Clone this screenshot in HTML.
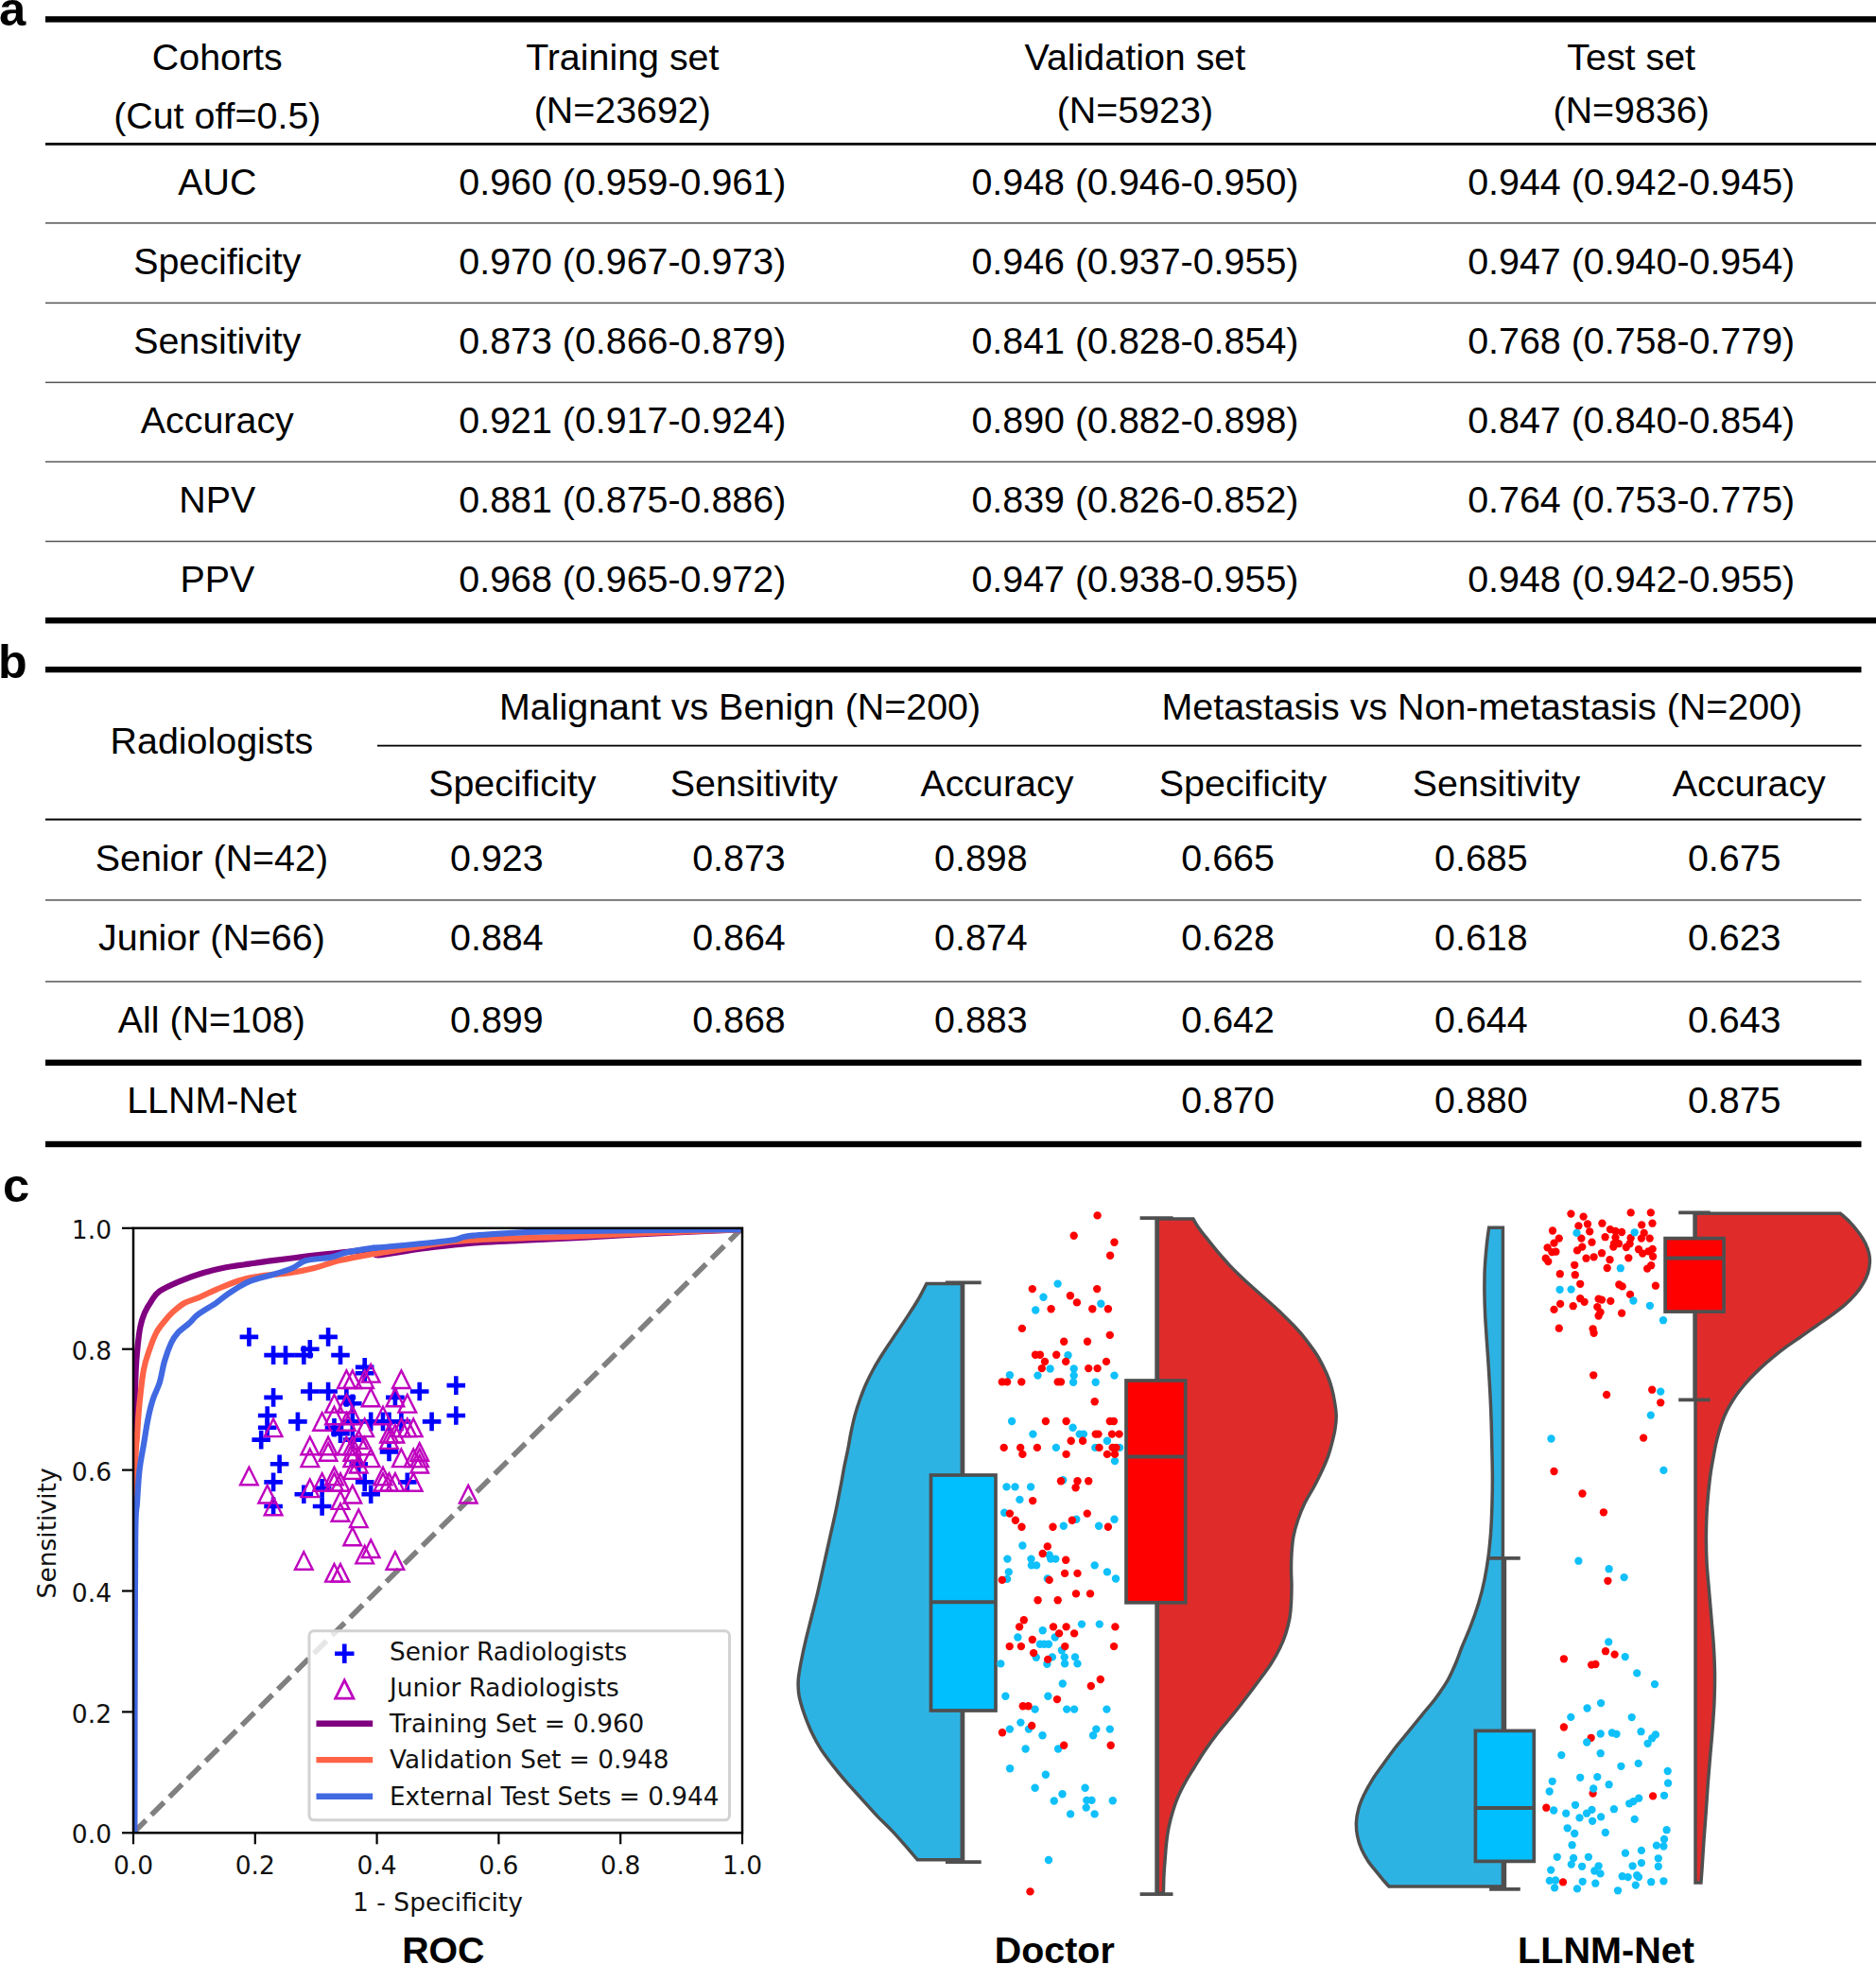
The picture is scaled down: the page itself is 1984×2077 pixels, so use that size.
<!DOCTYPE html>
<html><head><meta charset="utf-8"><title>Figure</title>
<style>html,body{margin:0;padding:0;background:#fff}svg{display:block}</style></head>
<body><svg width="1984" height="2077" viewBox="0 0 1984 2077">
<rect width="1984" height="2077" fill="#fff"/>
<text x="-0.9" y="27.1" font-size="50.8" text-anchor="start" font-family="Liberation Sans, Arial, sans-serif" font-weight="bold" fill="#000">a</text>
<rect x="48" y="17.20" width="1936" height="6.4" fill="#000"/>
<rect x="48" y="150.90" width="1936" height="2.8" fill="#000"/>
<text x="229.8" y="73.8" font-size="39.4" text-anchor="middle" font-family="Liberation Sans, Arial, sans-serif" fill="#000">Cohorts</text>
<text x="229.8" y="135.9" font-size="39.4" text-anchor="middle" font-family="Liberation Sans, Arial, sans-serif" fill="#000">(Cut off=0.5)</text>
<text x="658.3" y="73.8" font-size="39.4" text-anchor="middle" font-family="Liberation Sans, Arial, sans-serif" fill="#000">Training set</text>
<text x="658.3" y="129.8" font-size="39.4" text-anchor="middle" font-family="Liberation Sans, Arial, sans-serif" fill="#000">(N=23692)</text>
<text x="1200.4" y="73.8" font-size="39.4" text-anchor="middle" font-family="Liberation Sans, Arial, sans-serif" fill="#000">Validation set</text>
<text x="1200.4" y="129.8" font-size="39.4" text-anchor="middle" font-family="Liberation Sans, Arial, sans-serif" fill="#000">(N=5923)</text>
<text x="1725.2" y="73.8" font-size="39.4" text-anchor="middle" font-family="Liberation Sans, Arial, sans-serif" fill="#000">Test set</text>
<text x="1725.2" y="129.8" font-size="39.4" text-anchor="middle" font-family="Liberation Sans, Arial, sans-serif" fill="#000">(N=9836)</text>
<text x="229.8" y="205.9" font-size="39.4" text-anchor="middle" font-family="Liberation Sans, Arial, sans-serif" fill="#000">AUC</text>
<text x="658.3" y="205.9" font-size="39.4" text-anchor="middle" font-family="Liberation Sans, Arial, sans-serif" fill="#000">0.960 (0.959-0.961)</text>
<text x="1200.4" y="205.9" font-size="39.4" text-anchor="middle" font-family="Liberation Sans, Arial, sans-serif" fill="#000">0.948 (0.946-0.950)</text>
<text x="1725.2" y="205.9" font-size="39.4" text-anchor="middle" font-family="Liberation Sans, Arial, sans-serif" fill="#000">0.944 (0.942-0.945)</text>
<text x="229.8" y="289.8" font-size="39.4" text-anchor="middle" font-family="Liberation Sans, Arial, sans-serif" fill="#000">Specificity</text>
<text x="658.3" y="289.8" font-size="39.4" text-anchor="middle" font-family="Liberation Sans, Arial, sans-serif" fill="#000">0.970 (0.967-0.973)</text>
<text x="1200.4" y="289.8" font-size="39.4" text-anchor="middle" font-family="Liberation Sans, Arial, sans-serif" fill="#000">0.946 (0.937-0.955)</text>
<text x="1725.2" y="289.8" font-size="39.4" text-anchor="middle" font-family="Liberation Sans, Arial, sans-serif" fill="#000">0.947 (0.940-0.954)</text>
<text x="229.8" y="373.8" font-size="39.4" text-anchor="middle" font-family="Liberation Sans, Arial, sans-serif" fill="#000">Sensitivity</text>
<text x="658.3" y="373.8" font-size="39.4" text-anchor="middle" font-family="Liberation Sans, Arial, sans-serif" fill="#000">0.873 (0.866-0.879)</text>
<text x="1200.4" y="373.8" font-size="39.4" text-anchor="middle" font-family="Liberation Sans, Arial, sans-serif" fill="#000">0.841 (0.828-0.854)</text>
<text x="1725.2" y="373.8" font-size="39.4" text-anchor="middle" font-family="Liberation Sans, Arial, sans-serif" fill="#000">0.768 (0.758-0.779)</text>
<text x="229.8" y="457.9" font-size="39.4" text-anchor="middle" font-family="Liberation Sans, Arial, sans-serif" fill="#000">Accuracy</text>
<text x="658.3" y="457.9" font-size="39.4" text-anchor="middle" font-family="Liberation Sans, Arial, sans-serif" fill="#000">0.921 (0.917-0.924)</text>
<text x="1200.4" y="457.9" font-size="39.4" text-anchor="middle" font-family="Liberation Sans, Arial, sans-serif" fill="#000">0.890 (0.882-0.898)</text>
<text x="1725.2" y="457.9" font-size="39.4" text-anchor="middle" font-family="Liberation Sans, Arial, sans-serif" fill="#000">0.847 (0.840-0.854)</text>
<text x="229.8" y="541.9" font-size="39.4" text-anchor="middle" font-family="Liberation Sans, Arial, sans-serif" fill="#000">NPV</text>
<text x="658.3" y="541.9" font-size="39.4" text-anchor="middle" font-family="Liberation Sans, Arial, sans-serif" fill="#000">0.881 (0.875-0.886)</text>
<text x="1200.4" y="541.9" font-size="39.4" text-anchor="middle" font-family="Liberation Sans, Arial, sans-serif" fill="#000">0.839 (0.826-0.852)</text>
<text x="1725.2" y="541.9" font-size="39.4" text-anchor="middle" font-family="Liberation Sans, Arial, sans-serif" fill="#000">0.764 (0.753-0.775)</text>
<text x="229.8" y="625.9" font-size="39.4" text-anchor="middle" font-family="Liberation Sans, Arial, sans-serif" fill="#000">PPV</text>
<text x="658.3" y="625.9" font-size="39.4" text-anchor="middle" font-family="Liberation Sans, Arial, sans-serif" fill="#000">0.968 (0.965-0.972)</text>
<text x="1200.4" y="625.9" font-size="39.4" text-anchor="middle" font-family="Liberation Sans, Arial, sans-serif" fill="#000">0.947 (0.938-0.955)</text>
<text x="1725.2" y="625.9" font-size="39.4" text-anchor="middle" font-family="Liberation Sans, Arial, sans-serif" fill="#000">0.948 (0.942-0.955)</text>
<rect x="48" y="235.15" width="1936" height="1.5" fill="#555"/>
<rect x="48" y="319.65" width="1936" height="1.5" fill="#555"/>
<rect x="48" y="403.65" width="1936" height="1.5" fill="#555"/>
<rect x="48" y="487.65" width="1936" height="1.5" fill="#555"/>
<rect x="48" y="571.75" width="1936" height="1.5" fill="#555"/>
<rect x="48" y="653.00" width="1936" height="6.4" fill="#000"/>
<text x="-2.1" y="716.7" font-size="50.2" text-anchor="start" font-family="Liberation Sans, Arial, sans-serif" font-weight="bold" fill="#000">b</text>
<rect x="48" y="704.95" width="1920.5" height="6.3" fill="#000"/>
<text x="223.9" y="796.8" font-size="39.4" text-anchor="middle" font-family="Liberation Sans, Arial, sans-serif" fill="#000">Radiologists</text>
<text x="782.6" y="761" font-size="39.4" text-anchor="middle" font-family="Liberation Sans, Arial, sans-serif" fill="#000">Malignant vs Benign (N=200)</text>
<text x="1567.3" y="761" font-size="39.4" text-anchor="middle" font-family="Liberation Sans, Arial, sans-serif" fill="#000">Metastasis vs Non-metastasis (N=200)</text>
<rect x="399" y="787.70" width="1569.5" height="1.8" fill="#000"/>
<text x="541.8" y="842.3" font-size="39.4" text-anchor="middle" font-family="Liberation Sans, Arial, sans-serif" fill="#000">Specificity</text>
<text x="797.4" y="842.3" font-size="39.4" text-anchor="middle" font-family="Liberation Sans, Arial, sans-serif" fill="#000">Sensitivity</text>
<text x="1054.4" y="842.3" font-size="39.4" text-anchor="middle" font-family="Liberation Sans, Arial, sans-serif" fill="#000">Accuracy</text>
<text x="1314.5" y="842.3" font-size="39.4" text-anchor="middle" font-family="Liberation Sans, Arial, sans-serif" fill="#000">Specificity</text>
<text x="1582.5" y="842.3" font-size="39.4" text-anchor="middle" font-family="Liberation Sans, Arial, sans-serif" fill="#000">Sensitivity</text>
<text x="1849.8" y="842.3" font-size="39.4" text-anchor="middle" font-family="Liberation Sans, Arial, sans-serif" fill="#000">Accuracy</text>
<rect x="48" y="865.60" width="1920.5" height="2" fill="#000"/>
<text x="223.9" y="920.7" font-size="39.4" text-anchor="middle" font-family="Liberation Sans, Arial, sans-serif" fill="#000">Senior (N=42)</text>
<text x="525.4" y="920.7" font-size="39.4" text-anchor="middle" font-family="Liberation Sans, Arial, sans-serif" fill="#000">0.923</text>
<text x="781.5" y="920.7" font-size="39.4" text-anchor="middle" font-family="Liberation Sans, Arial, sans-serif" fill="#000">0.873</text>
<text x="1037.4" y="920.7" font-size="39.4" text-anchor="middle" font-family="Liberation Sans, Arial, sans-serif" fill="#000">0.898</text>
<text x="1298.6" y="920.7" font-size="39.4" text-anchor="middle" font-family="Liberation Sans, Arial, sans-serif" fill="#000">0.665</text>
<text x="1566.4" y="920.7" font-size="39.4" text-anchor="middle" font-family="Liberation Sans, Arial, sans-serif" fill="#000">0.685</text>
<text x="1834.2" y="920.7" font-size="39.4" text-anchor="middle" font-family="Liberation Sans, Arial, sans-serif" fill="#000">0.675</text>
<text x="223.9" y="1004.6" font-size="39.4" text-anchor="middle" font-family="Liberation Sans, Arial, sans-serif" fill="#000">Junior (N=66)</text>
<text x="525.4" y="1004.6" font-size="39.4" text-anchor="middle" font-family="Liberation Sans, Arial, sans-serif" fill="#000">0.884</text>
<text x="781.5" y="1004.6" font-size="39.4" text-anchor="middle" font-family="Liberation Sans, Arial, sans-serif" fill="#000">0.864</text>
<text x="1037.4" y="1004.6" font-size="39.4" text-anchor="middle" font-family="Liberation Sans, Arial, sans-serif" fill="#000">0.874</text>
<text x="1298.6" y="1004.6" font-size="39.4" text-anchor="middle" font-family="Liberation Sans, Arial, sans-serif" fill="#000">0.628</text>
<text x="1566.4" y="1004.6" font-size="39.4" text-anchor="middle" font-family="Liberation Sans, Arial, sans-serif" fill="#000">0.618</text>
<text x="1834.2" y="1004.6" font-size="39.4" text-anchor="middle" font-family="Liberation Sans, Arial, sans-serif" fill="#000">0.623</text>
<text x="223.9" y="1092.2" font-size="39.4" text-anchor="middle" font-family="Liberation Sans, Arial, sans-serif" fill="#000">All (N=108)</text>
<text x="525.4" y="1092.2" font-size="39.4" text-anchor="middle" font-family="Liberation Sans, Arial, sans-serif" fill="#000">0.899</text>
<text x="781.5" y="1092.2" font-size="39.4" text-anchor="middle" font-family="Liberation Sans, Arial, sans-serif" fill="#000">0.868</text>
<text x="1037.4" y="1092.2" font-size="39.4" text-anchor="middle" font-family="Liberation Sans, Arial, sans-serif" fill="#000">0.883</text>
<text x="1298.6" y="1092.2" font-size="39.4" text-anchor="middle" font-family="Liberation Sans, Arial, sans-serif" fill="#000">0.642</text>
<text x="1566.4" y="1092.2" font-size="39.4" text-anchor="middle" font-family="Liberation Sans, Arial, sans-serif" fill="#000">0.644</text>
<text x="1834.2" y="1092.2" font-size="39.4" text-anchor="middle" font-family="Liberation Sans, Arial, sans-serif" fill="#000">0.643</text>
<text x="223.9" y="1176.9" font-size="39.4" text-anchor="middle" font-family="Liberation Sans, Arial, sans-serif" fill="#000">LLNM-Net</text>
<text x="1298.6" y="1176.9" font-size="39.4" text-anchor="middle" font-family="Liberation Sans, Arial, sans-serif" fill="#000">0.870</text>
<text x="1566.4" y="1176.9" font-size="39.4" text-anchor="middle" font-family="Liberation Sans, Arial, sans-serif" fill="#000">0.880</text>
<text x="1834.2" y="1176.9" font-size="39.4" text-anchor="middle" font-family="Liberation Sans, Arial, sans-serif" fill="#000">0.875</text>
<rect x="48" y="951.15" width="1920.5" height="1.5" fill="#555"/>
<rect x="48" y="1037.35" width="1920.5" height="1.5" fill="#555"/>
<rect x="48" y="1120.60" width="1920.5" height="6.4" fill="#000"/>
<rect x="48" y="1206.80" width="1920.5" height="6.4" fill="#000"/>
<text x="2.9" y="1271.2" font-size="50.8" text-anchor="start" font-family="Liberation Sans, Arial, sans-serif" font-weight="bold" fill="#000">c</text>
<g id="roc">
<line x1="141.0" y1="1938.3" x2="141.0" y2="1950.3" stroke="#000" stroke-width="2.2"/>
<line x1="141.0" y1="1938.3" x2="129.0" y2="1938.3" stroke="#000" stroke-width="2.2"/>
<text x="141.0" y="1982.1" font-size="26.5" text-anchor="middle" font-family="DejaVu Sans, sans-serif" fill="#111">0.0</text>
<text x="118.0" y="1949.4" font-size="26.5" text-anchor="end" font-family="DejaVu Sans, sans-serif" fill="#111">0.0</text>
<line x1="269.8" y1="1938.3" x2="269.8" y2="1950.3" stroke="#000" stroke-width="2.2"/>
<line x1="141.0" y1="1810.4" x2="129.0" y2="1810.4" stroke="#000" stroke-width="2.2"/>
<text x="269.8" y="1982.1" font-size="26.5" text-anchor="middle" font-family="DejaVu Sans, sans-serif" fill="#111">0.2</text>
<text x="118.0" y="1821.5" font-size="26.5" text-anchor="end" font-family="DejaVu Sans, sans-serif" fill="#111">0.2</text>
<line x1="398.6" y1="1938.3" x2="398.6" y2="1950.3" stroke="#000" stroke-width="2.2"/>
<line x1="141.0" y1="1682.5" x2="129.0" y2="1682.5" stroke="#000" stroke-width="2.2"/>
<text x="398.6" y="1982.1" font-size="26.5" text-anchor="middle" font-family="DejaVu Sans, sans-serif" fill="#111">0.4</text>
<text x="118.0" y="1693.6" font-size="26.5" text-anchor="end" font-family="DejaVu Sans, sans-serif" fill="#111">0.4</text>
<line x1="527.4" y1="1938.3" x2="527.4" y2="1950.3" stroke="#000" stroke-width="2.2"/>
<line x1="141.0" y1="1554.6" x2="129.0" y2="1554.6" stroke="#000" stroke-width="2.2"/>
<text x="527.4" y="1982.1" font-size="26.5" text-anchor="middle" font-family="DejaVu Sans, sans-serif" fill="#111">0.6</text>
<text x="118.0" y="1565.7" font-size="26.5" text-anchor="end" font-family="DejaVu Sans, sans-serif" fill="#111">0.6</text>
<line x1="656.2" y1="1938.3" x2="656.2" y2="1950.3" stroke="#000" stroke-width="2.2"/>
<line x1="141.0" y1="1426.7" x2="129.0" y2="1426.7" stroke="#000" stroke-width="2.2"/>
<text x="656.2" y="1982.1" font-size="26.5" text-anchor="middle" font-family="DejaVu Sans, sans-serif" fill="#111">0.8</text>
<text x="118.0" y="1437.8" font-size="26.5" text-anchor="end" font-family="DejaVu Sans, sans-serif" fill="#111">0.8</text>
<line x1="785.0" y1="1938.3" x2="785.0" y2="1950.3" stroke="#000" stroke-width="2.2"/>
<line x1="141.0" y1="1298.8" x2="129.0" y2="1298.8" stroke="#000" stroke-width="2.2"/>
<text x="785.0" y="1982.1" font-size="26.5" text-anchor="middle" font-family="DejaVu Sans, sans-serif" fill="#111">1.0</text>
<text x="118.0" y="1309.9" font-size="26.5" text-anchor="end" font-family="DejaVu Sans, sans-serif" fill="#111">1.0</text>
<text x="463" y="2021.3" font-size="26.5" text-anchor="middle" font-family="DejaVu Sans, sans-serif" fill="#111">1 - Specificity</text>
<text transform="translate(58.7,1621.4) rotate(-90)" font-size="26.5" text-anchor="middle" font-family="DejaVu Sans, sans-serif" fill="#111">Sensitivity</text>
<clipPath id="axclip"><rect x="141.0" y="1298.8" width="644.0" height="639.5"/></clipPath>
<line x1="141.0" y1="1938.3" x2="785.0" y2="1298.8" stroke="#808080" stroke-width="5.6" stroke-dasharray="18.8 8.13" clip-path="url(#axclip)"/>
<path d="M142.0,1938.3 C142.0,1875.2 141.9,1632.9 142.0,1560.0 C142.1,1487.1 142.0,1519.7 142.3,1501.1 C142.6,1482.5 143.1,1461.5 143.7,1448.3 C144.3,1435.1 145.0,1429.5 145.8,1421.9 C146.6,1414.3 147.3,1408.1 148.5,1402.6 C149.6,1397.0 151.0,1392.9 152.9,1388.5 C154.8,1384.1 157.3,1380.0 159.9,1376.2 C162.5,1372.4 163.7,1369.2 168.7,1365.6 C173.7,1362.1 182.2,1358.3 189.8,1355.1 C197.4,1351.9 206.8,1348.6 214.4,1346.3 C222.1,1343.9 227.3,1342.6 235.5,1341.0 C243.7,1339.4 254.9,1337.9 263.7,1336.6 C272.5,1335.3 278.3,1334.4 288.3,1333.1 C298.3,1331.8 311.8,1330.1 323.5,1328.7 C335.2,1327.3 346.9,1325.9 358.7,1324.8 C370.4,1323.7 387.0,1321.6 393.9,1322.0 C400.7,1322.4 391.9,1327.5 400.0,1327.3 C408.1,1327.2 426.7,1323.0 442.6,1320.9 C458.6,1318.8 478.2,1316.2 495.9,1314.8 C513.7,1313.3 529.7,1312.9 549.3,1312.0 C568.8,1311.0 588.3,1310.3 613.2,1309.0 C638.1,1307.7 670.1,1305.6 698.5,1304.1 C726.9,1302.6 769.6,1300.9 783.8,1300.3" fill="none" stroke="#800080" stroke-width="6.2" stroke-linejoin="round" stroke-linecap="butt" clip-path="url(#axclip)"/>
<path d="M142.0,1938.3 C142.0,1898.6 142.0,1764.1 142.2,1700.0 C142.4,1635.9 142.7,1584.1 143.2,1553.9 C143.7,1523.6 144.2,1530.4 145.0,1518.7 C145.7,1506.9 146.4,1495.2 147.6,1483.5 C148.8,1471.8 150.2,1457.7 152.0,1448.3 C153.7,1438.9 155.9,1433.7 158.1,1427.2 C160.3,1420.8 162.5,1414.6 165.2,1409.6 C167.8,1404.6 171.0,1401.0 174.0,1397.3 C176.9,1393.6 179.3,1390.9 182.8,1387.6 C186.3,1384.4 190.7,1380.4 195.1,1378.0 C199.5,1375.5 203.6,1375.0 209.2,1372.7 C214.7,1370.3 221.2,1367.0 228.5,1363.9 C235.8,1360.8 244.6,1356.7 253.1,1354.2 C261.6,1351.7 270.7,1350.2 279.5,1348.9 C288.3,1347.6 297.1,1347.6 305.9,1346.3 C314.7,1345.0 323.5,1343.2 332.3,1341.0 C341.1,1338.8 348.4,1335.6 358.7,1333.1 C368.9,1330.6 387.0,1327.3 393.9,1326.1 C400.7,1324.8 391.9,1326.7 400.0,1325.4 C408.1,1324.1 426.7,1320.7 442.6,1318.4 C458.6,1316.1 467.5,1313.4 495.9,1311.6 C524.4,1309.7 579.5,1308.6 613.2,1307.3 C647.0,1305.9 670.1,1304.6 698.5,1303.5 C726.9,1302.3 769.6,1300.8 783.8,1300.3" fill="none" stroke="#FF6347" stroke-width="6.2" stroke-linejoin="round" stroke-linecap="butt" clip-path="url(#axclip)"/>
<path d="M142.3,1938.3 C142.3,1915.2 142.4,1852.3 142.5,1800.0 C142.6,1747.7 142.8,1659.4 143.2,1624.2 C143.6,1589.1 144.2,1600.8 145.0,1589.0 C145.7,1577.3 146.4,1564.1 147.6,1553.9 C148.8,1543.6 150.5,1536.3 152.0,1527.5 C153.5,1518.7 154.8,1509.0 156.4,1501.1 C158.0,1493.2 159.6,1486.4 161.7,1480.0 C163.7,1473.5 166.6,1469.1 168.7,1462.4 C170.8,1455.6 171.9,1446.6 174.0,1439.5 C176.0,1432.5 178.7,1425.2 181.0,1420.2 C183.4,1415.2 184.8,1413.1 188.0,1409.6 C191.3,1406.1 196.8,1402.3 200.4,1399.1 C203.9,1395.8 204.5,1393.8 209.2,1390.3 C213.8,1386.7 222.9,1381.8 228.5,1378.0 C234.1,1374.1 236.7,1371.2 242.6,1367.4 C248.4,1363.6 256.1,1358.3 263.7,1355.1 C271.3,1351.9 280.7,1350.4 288.3,1348.0 C295.9,1345.7 303.6,1343.5 309.4,1341.0 C315.3,1338.5 316.7,1335.0 323.5,1333.1 C330.2,1331.2 342.5,1331.0 349.9,1329.6 C357.2,1328.1 360.1,1325.9 367.5,1324.3 C374.8,1322.7 388.4,1320.7 393.9,1319.9 C399.3,1319.1 386.5,1320.8 400.0,1319.4 C413.5,1318.1 457.9,1314.1 474.6,1312.0 C491.3,1309.9 482.4,1308.3 500.2,1306.7 C518.0,1305.1 534.0,1303.5 581.2,1302.4 C628.5,1301.3 750.0,1300.6 783.8,1300.3" fill="none" stroke="#4169E1" stroke-width="6.2" stroke-linejoin="round" stroke-linecap="butt" clip-path="url(#axclip)"/>
<path d="M253.6,1413.9H273.2M263.4,1404.1V1423.7" stroke="#0000FF" stroke-width="4.6" fill="none"/>
<path d="M337.3,1413.9H356.9M347.1,1404.1V1423.7" stroke="#0000FF" stroke-width="4.6" fill="none"/>
<path d="M318.0,1426.7H337.6M327.8,1416.9V1436.5" stroke="#0000FF" stroke-width="4.6" fill="none"/>
<path d="M279.3,1433.1H298.9M289.1,1423.3V1442.9" stroke="#0000FF" stroke-width="4.6" fill="none"/>
<path d="M292.2,1433.1H311.8M302.0,1423.3V1442.9" stroke="#0000FF" stroke-width="4.6" fill="none"/>
<path d="M311.5,1433.1H331.1M321.3,1423.3V1442.9" stroke="#0000FF" stroke-width="4.6" fill="none"/>
<path d="M350.2,1433.1H369.8M360.0,1423.3V1442.9" stroke="#0000FF" stroke-width="4.6" fill="none"/>
<path d="M375.9,1445.9H395.5M385.7,1436.1V1455.7" stroke="#0000FF" stroke-width="4.6" fill="none"/>
<path d="M375.9,1452.3H395.5M385.7,1442.5V1462.1" stroke="#0000FF" stroke-width="4.6" fill="none"/>
<path d="M472.5,1465.1H492.1M482.3,1455.3V1474.9" stroke="#0000FF" stroke-width="4.6" fill="none"/>
<path d="M433.9,1471.5H453.5M443.7,1461.7V1481.3" stroke="#0000FF" stroke-width="4.6" fill="none"/>
<path d="M318.0,1471.5H337.6M327.8,1461.7V1481.3" stroke="#0000FF" stroke-width="4.6" fill="none"/>
<path d="M337.3,1471.5H356.9M347.1,1461.7V1481.3" stroke="#0000FF" stroke-width="4.6" fill="none"/>
<path d="M279.3,1477.9H298.9M289.1,1468.1V1487.7" stroke="#0000FF" stroke-width="4.6" fill="none"/>
<path d="M356.6,1477.9H376.2M366.4,1468.1V1487.7" stroke="#0000FF" stroke-width="4.6" fill="none"/>
<path d="M408.1,1477.9H427.7M417.9,1468.1V1487.7" stroke="#0000FF" stroke-width="4.6" fill="none"/>
<path d="M363.0,1484.3H382.6M372.8,1474.5V1494.1" stroke="#0000FF" stroke-width="4.6" fill="none"/>
<path d="M472.5,1497.0H492.1M482.3,1487.2V1506.8" stroke="#0000FF" stroke-width="4.6" fill="none"/>
<path d="M272.9,1497.0H292.5M282.7,1487.2V1506.8" stroke="#0000FF" stroke-width="4.6" fill="none"/>
<path d="M305.1,1503.4H324.7M314.9,1493.6V1513.2" stroke="#0000FF" stroke-width="4.6" fill="none"/>
<path d="M446.8,1503.4H466.4M456.6,1493.6V1513.2" stroke="#0000FF" stroke-width="4.6" fill="none"/>
<path d="M382.4,1503.4H402.0M392.2,1493.6V1513.2" stroke="#0000FF" stroke-width="4.6" fill="none"/>
<path d="M401.7,1503.4H421.3M411.5,1493.6V1513.2" stroke="#0000FF" stroke-width="4.6" fill="none"/>
<path d="M414.6,1503.4H434.2M424.4,1493.6V1513.2" stroke="#0000FF" stroke-width="4.6" fill="none"/>
<path d="M363.0,1503.4H382.6M372.8,1493.6V1513.2" stroke="#0000FF" stroke-width="4.6" fill="none"/>
<path d="M272.9,1509.8H292.5M282.7,1500.0V1519.6" stroke="#0000FF" stroke-width="4.6" fill="none"/>
<path d="M266.4,1522.6H286.0M276.2,1512.8V1532.4" stroke="#0000FF" stroke-width="4.6" fill="none"/>
<path d="M350.2,1516.2H369.8M360.0,1506.4V1526.0" stroke="#0000FF" stroke-width="4.6" fill="none"/>
<path d="M401.7,1535.4H421.3M411.5,1525.6V1545.2" stroke="#0000FF" stroke-width="4.6" fill="none"/>
<path d="M285.8,1548.2H305.4M295.6,1538.4V1558.0" stroke="#0000FF" stroke-width="4.6" fill="none"/>
<path d="M279.3,1567.4H298.9M289.1,1557.6V1577.2" stroke="#0000FF" stroke-width="4.6" fill="none"/>
<path d="M375.9,1567.4H395.5M385.7,1557.6V1577.2" stroke="#0000FF" stroke-width="4.6" fill="none"/>
<path d="M421.0,1567.4H440.6M430.8,1557.6V1577.2" stroke="#0000FF" stroke-width="4.6" fill="none"/>
<path d="M330.8,1573.8H350.4M340.6,1564.0V1583.6" stroke="#0000FF" stroke-width="4.6" fill="none"/>
<path d="M382.4,1580.2H402.0M392.2,1570.4V1590.0" stroke="#0000FF" stroke-width="4.6" fill="none"/>
<path d="M311.5,1580.2H331.1M321.3,1570.4V1590.0" stroke="#0000FF" stroke-width="4.6" fill="none"/>
<path d="M330.8,1593.0H350.4M340.6,1583.2V1602.8" stroke="#0000FF" stroke-width="4.6" fill="none"/>
<path d="M279.3,1593.0H298.9M289.1,1583.2V1602.8" stroke="#0000FF" stroke-width="4.6" fill="none"/>
<path d="M369.5,1548.2H389.1M379.3,1538.4V1558.0" stroke="#0000FF" stroke-width="4.6" fill="none"/>
<path d="M343.7,1509.8H363.3M353.5,1500.0V1519.6" stroke="#0000FF" stroke-width="4.6" fill="none"/>
<path d="M363.0,1522.6H382.6M372.8,1512.8V1532.4" stroke="#0000FF" stroke-width="4.6" fill="none"/>
<path d="M395.2,1503.4H414.8M405.0,1493.6V1513.2" stroke="#0000FF" stroke-width="4.6" fill="none"/>
<path d="M263.4,1551.7L272.7,1570.3H254.1Z" stroke="#BF00BF" stroke-width="2.4" fill="none" stroke-linejoin="miter"/>
<path d="M289.1,1500.5L298.4,1519.1H279.8Z" stroke="#BF00BF" stroke-width="2.4" fill="none" stroke-linejoin="miter"/>
<path d="M282.7,1570.9L292.0,1589.5H273.4Z" stroke="#BF00BF" stroke-width="2.4" fill="none" stroke-linejoin="miter"/>
<path d="M289.1,1583.7L298.4,1602.3H279.8Z" stroke="#BF00BF" stroke-width="2.4" fill="none" stroke-linejoin="miter"/>
<path d="M495.2,1570.9L504.5,1589.5H485.9Z" stroke="#BF00BF" stroke-width="2.4" fill="none" stroke-linejoin="miter"/>
<path d="M321.3,1641.2L330.6,1659.8H312.0Z" stroke="#BF00BF" stroke-width="2.4" fill="none" stroke-linejoin="miter"/>
<path d="M353.5,1654.0L362.8,1672.6H344.2Z" stroke="#BF00BF" stroke-width="2.4" fill="none" stroke-linejoin="miter"/>
<path d="M360.0,1654.0L369.3,1672.6H350.7Z" stroke="#BF00BF" stroke-width="2.4" fill="none" stroke-linejoin="miter"/>
<path d="M417.9,1641.2L427.2,1659.8H408.6Z" stroke="#BF00BF" stroke-width="2.4" fill="none" stroke-linejoin="miter"/>
<path d="M392.2,1628.4L401.5,1647.0H382.9Z" stroke="#BF00BF" stroke-width="2.4" fill="none" stroke-linejoin="miter"/>
<path d="M385.7,1634.8L395.0,1653.4H376.4Z" stroke="#BF00BF" stroke-width="2.4" fill="none" stroke-linejoin="miter"/>
<path d="M372.8,1615.6L382.1,1634.2H363.5Z" stroke="#BF00BF" stroke-width="2.4" fill="none" stroke-linejoin="miter"/>
<path d="M379.3,1596.5L388.6,1615.1H370.0Z" stroke="#BF00BF" stroke-width="2.4" fill="none" stroke-linejoin="miter"/>
<path d="M360.0,1590.1L369.3,1608.7H350.7Z" stroke="#BF00BF" stroke-width="2.4" fill="none" stroke-linejoin="miter"/>
<path d="M360.0,1577.3L369.3,1595.9H350.7Z" stroke="#BF00BF" stroke-width="2.4" fill="none" stroke-linejoin="miter"/>
<path d="M372.8,1570.9L382.1,1589.5H363.5Z" stroke="#BF00BF" stroke-width="2.4" fill="none" stroke-linejoin="miter"/>
<path d="M327.8,1564.5L337.1,1583.1H318.5Z" stroke="#BF00BF" stroke-width="2.4" fill="none" stroke-linejoin="miter"/>
<path d="M340.6,1558.1L349.9,1576.7H331.3Z" stroke="#BF00BF" stroke-width="2.4" fill="none" stroke-linejoin="miter"/>
<path d="M353.5,1551.7L362.8,1570.3H344.2Z" stroke="#BF00BF" stroke-width="2.4" fill="none" stroke-linejoin="miter"/>
<path d="M353.5,1558.1L362.8,1576.7H344.2Z" stroke="#BF00BF" stroke-width="2.4" fill="none" stroke-linejoin="miter"/>
<path d="M327.8,1532.5L337.1,1551.1H318.5Z" stroke="#BF00BF" stroke-width="2.4" fill="none" stroke-linejoin="miter"/>
<path d="M327.8,1519.7L337.1,1538.3H318.5Z" stroke="#BF00BF" stroke-width="2.4" fill="none" stroke-linejoin="miter"/>
<path d="M347.1,1526.1L356.4,1544.7H337.8Z" stroke="#BF00BF" stroke-width="2.4" fill="none" stroke-linejoin="miter"/>
<path d="M347.1,1519.7L356.4,1538.3H337.8Z" stroke="#BF00BF" stroke-width="2.4" fill="none" stroke-linejoin="miter"/>
<path d="M340.6,1494.1L349.9,1512.7H331.3Z" stroke="#BF00BF" stroke-width="2.4" fill="none" stroke-linejoin="miter"/>
<path d="M353.5,1475.0L362.8,1493.6H344.2Z" stroke="#BF00BF" stroke-width="2.4" fill="none" stroke-linejoin="miter"/>
<path d="M366.4,1475.0L375.7,1493.6H357.1Z" stroke="#BF00BF" stroke-width="2.4" fill="none" stroke-linejoin="miter"/>
<path d="M366.4,1449.4L375.7,1468.0H357.1Z" stroke="#BF00BF" stroke-width="2.4" fill="none" stroke-linejoin="miter"/>
<path d="M372.8,1449.4L382.1,1468.0H363.5Z" stroke="#BF00BF" stroke-width="2.4" fill="none" stroke-linejoin="miter"/>
<path d="M392.2,1443.0L401.5,1461.6H382.9Z" stroke="#BF00BF" stroke-width="2.4" fill="none" stroke-linejoin="miter"/>
<path d="M385.7,1449.4L395.0,1468.0H376.4Z" stroke="#BF00BF" stroke-width="2.4" fill="none" stroke-linejoin="miter"/>
<path d="M424.4,1449.4L433.7,1468.0H415.1Z" stroke="#BF00BF" stroke-width="2.4" fill="none" stroke-linejoin="miter"/>
<path d="M392.2,1468.6L401.5,1487.2H382.9Z" stroke="#BF00BF" stroke-width="2.4" fill="none" stroke-linejoin="miter"/>
<path d="M417.9,1468.6L427.2,1487.2H408.6Z" stroke="#BF00BF" stroke-width="2.4" fill="none" stroke-linejoin="miter"/>
<path d="M430.8,1475.0L440.1,1493.6H421.5Z" stroke="#BF00BF" stroke-width="2.4" fill="none" stroke-linejoin="miter"/>
<path d="M405.0,1487.7L414.3,1506.3H395.7Z" stroke="#BF00BF" stroke-width="2.4" fill="none" stroke-linejoin="miter"/>
<path d="M437.2,1500.5L446.5,1519.1H427.9Z" stroke="#BF00BF" stroke-width="2.4" fill="none" stroke-linejoin="miter"/>
<path d="M430.8,1500.5L440.1,1519.1H421.5Z" stroke="#BF00BF" stroke-width="2.4" fill="none" stroke-linejoin="miter"/>
<path d="M385.7,1500.5L395.0,1519.1H376.4Z" stroke="#BF00BF" stroke-width="2.4" fill="none" stroke-linejoin="miter"/>
<path d="M372.8,1487.7L382.1,1506.3H363.5Z" stroke="#BF00BF" stroke-width="2.4" fill="none" stroke-linejoin="miter"/>
<path d="M353.5,1487.7L362.8,1506.3H344.2Z" stroke="#BF00BF" stroke-width="2.4" fill="none" stroke-linejoin="miter"/>
<path d="M411.5,1506.9L420.8,1525.5H402.2Z" stroke="#BF00BF" stroke-width="2.4" fill="none" stroke-linejoin="miter"/>
<path d="M417.9,1506.9L427.2,1525.5H408.6Z" stroke="#BF00BF" stroke-width="2.4" fill="none" stroke-linejoin="miter"/>
<path d="M424.4,1500.5L433.7,1519.1H415.1Z" stroke="#BF00BF" stroke-width="2.4" fill="none" stroke-linejoin="miter"/>
<path d="M443.7,1526.1L453.0,1544.7H434.4Z" stroke="#BF00BF" stroke-width="2.4" fill="none" stroke-linejoin="miter"/>
<path d="M443.7,1532.5L453.0,1551.1H434.4Z" stroke="#BF00BF" stroke-width="2.4" fill="none" stroke-linejoin="miter"/>
<path d="M443.7,1538.9L453.0,1557.5H434.4Z" stroke="#BF00BF" stroke-width="2.4" fill="none" stroke-linejoin="miter"/>
<path d="M424.4,1532.5L433.7,1551.1H415.1Z" stroke="#BF00BF" stroke-width="2.4" fill="none" stroke-linejoin="miter"/>
<path d="M392.2,1532.5L401.5,1551.1H382.9Z" stroke="#BF00BF" stroke-width="2.4" fill="none" stroke-linejoin="miter"/>
<path d="M385.7,1519.7L395.0,1538.3H376.4Z" stroke="#BF00BF" stroke-width="2.4" fill="none" stroke-linejoin="miter"/>
<path d="M372.8,1519.7L382.1,1538.3H363.5Z" stroke="#BF00BF" stroke-width="2.4" fill="none" stroke-linejoin="miter"/>
<path d="M372.8,1526.1L382.1,1544.7H363.5Z" stroke="#BF00BF" stroke-width="2.4" fill="none" stroke-linejoin="miter"/>
<path d="M372.8,1532.5L382.1,1551.1H363.5Z" stroke="#BF00BF" stroke-width="2.4" fill="none" stroke-linejoin="miter"/>
<path d="M366.4,1519.7L375.7,1538.3H357.1Z" stroke="#BF00BF" stroke-width="2.4" fill="none" stroke-linejoin="miter"/>
<path d="M372.8,1545.3L382.1,1563.9H363.5Z" stroke="#BF00BF" stroke-width="2.4" fill="none" stroke-linejoin="miter"/>
<path d="M379.3,1538.9L388.6,1557.5H370.0Z" stroke="#BF00BF" stroke-width="2.4" fill="none" stroke-linejoin="miter"/>
<path d="M405.0,1551.7L414.3,1570.3H395.7Z" stroke="#BF00BF" stroke-width="2.4" fill="none" stroke-linejoin="miter"/>
<path d="M405.0,1558.1L414.3,1576.7H395.7Z" stroke="#BF00BF" stroke-width="2.4" fill="none" stroke-linejoin="miter"/>
<path d="M411.5,1558.1L420.8,1576.7H402.2Z" stroke="#BF00BF" stroke-width="2.4" fill="none" stroke-linejoin="miter"/>
<path d="M417.9,1558.1L427.2,1576.7H408.6Z" stroke="#BF00BF" stroke-width="2.4" fill="none" stroke-linejoin="miter"/>
<path d="M437.2,1558.1L446.5,1576.7H427.9Z" stroke="#BF00BF" stroke-width="2.4" fill="none" stroke-linejoin="miter"/>
<path d="M360.0,1558.1L369.3,1576.7H350.7Z" stroke="#BF00BF" stroke-width="2.4" fill="none" stroke-linejoin="miter"/>
<path d="M366.4,1494.1L375.7,1512.7H357.1Z" stroke="#BF00BF" stroke-width="2.4" fill="none" stroke-linejoin="miter"/>
<path d="M411.5,1513.3L420.8,1531.9H402.2Z" stroke="#BF00BF" stroke-width="2.4" fill="none" stroke-linejoin="miter"/>
<path d="M437.2,1532.5L446.5,1551.1H427.9Z" stroke="#BF00BF" stroke-width="2.4" fill="none" stroke-linejoin="miter"/>
<path d="M379.3,1513.3L388.6,1531.9H370.0Z" stroke="#BF00BF" stroke-width="2.4" fill="none" stroke-linejoin="miter"/>
<rect x="327" y="1724.8" width="444.5" height="200" rx="5" ry="5" fill="#fff" fill-opacity="0.8" stroke="#d2d2d2" stroke-width="3"/>
<path d="M354.1,1748.8H374.5M364.3,1738.6V1759.0" stroke="#0000FF" stroke-width="4.6" fill="none"/>
<path d="M364.3,1776.9L373.9,1796.1H354.7Z" stroke="#BF00BF" stroke-width="2.8" fill="none" stroke-linejoin="miter"/>
<line x1="334.5" y1="1822.7" x2="394.2" y2="1822.7" stroke="#800080" stroke-width="6.4"/>
<line x1="334.5" y1="1861.1" x2="394.2" y2="1861.1" stroke="#FF6347" stroke-width="6.4"/>
<line x1="334.5" y1="1899.8" x2="394.2" y2="1899.8" stroke="#4169E1" stroke-width="6.4"/>
<text x="412" y="1755.8" font-size="26.3" text-anchor="start" font-family="DejaVu Sans, sans-serif" fill="#111">Senior Radiologists</text>
<text x="412" y="1794" font-size="26.3" text-anchor="start" font-family="DejaVu Sans, sans-serif" fill="#111">Junior Radiologists</text>
<text x="412" y="1831.7" font-size="26.3" text-anchor="start" font-family="DejaVu Sans, sans-serif" fill="#111">Training Set = 0.960</text>
<text x="412" y="1870.1" font-size="26.3" text-anchor="start" font-family="DejaVu Sans, sans-serif" fill="#111">Validation Set = 0.948</text>
<text x="412" y="1908.8" font-size="26.3" text-anchor="start" font-family="DejaVu Sans, sans-serif" fill="#111">External Test Sets = 0.944</text>
<rect x="141.0" y="1298.8" width="644.0" height="639.5" fill="none" stroke="#000" stroke-width="2.5"/>
</g>
<g id="rain">
<path d="M1017.3,1357.5 L979.9,1357.5 C978.3,1360.5 973.8,1369.6 970.3,1375.5 C966.8,1381.4 963.1,1387.0 959.1,1393.1 C955.1,1399.2 950.6,1405.9 946.3,1412.3 C942.0,1418.7 937.2,1425.6 933.5,1431.5 C929.8,1437.4 926.8,1442.2 923.9,1447.5 C921.0,1452.8 918.3,1458.2 915.9,1463.5 C913.5,1468.8 911.6,1473.9 909.6,1479.5 C907.6,1485.1 905.6,1491.2 904.0,1497.1 C902.4,1503.0 901.2,1508.8 900.0,1514.7 C898.8,1520.6 898.0,1526.2 896.8,1532.3 C895.6,1538.4 894.0,1545.3 892.8,1551.4 C891.6,1557.5 891.1,1561.3 889.6,1569.0 C888.1,1576.7 886.0,1588.0 884.0,1597.6 C882.0,1607.2 879.7,1616.8 877.6,1626.4 C875.5,1636.0 873.3,1645.5 871.2,1655.1 C869.1,1664.7 866.9,1674.8 864.8,1683.9 C862.7,1693.0 860.5,1701.0 858.4,1709.5 C856.3,1718.0 853.9,1727.1 852.0,1735.1 C850.1,1743.1 848.5,1750.7 847.2,1757.5 C845.9,1764.3 844.7,1770.6 844.3,1776.0 C843.9,1781.4 844.2,1786.0 844.6,1790.0 C845.0,1794.0 845.5,1795.9 846.6,1800.0 C847.7,1804.1 849.2,1809.1 851.2,1814.4 C853.2,1819.7 855.6,1826.1 858.4,1832.0 C861.2,1837.9 864.3,1843.8 868.0,1849.6 C871.7,1855.4 876.3,1861.2 880.8,1867.1 C885.3,1872.9 890.1,1878.8 895.2,1884.7 C900.3,1890.6 905.9,1896.4 911.2,1902.3 C916.5,1908.2 921.8,1914.3 927.1,1919.9 C932.4,1925.5 938.0,1930.6 943.1,1935.9 C948.2,1941.2 953.0,1946.8 957.5,1951.9 C962.0,1957.1 968.2,1964.3 970.3,1966.8 L1017.3,1966.8 Z" fill="#2DB3E3" stroke="#4f4f4f" stroke-width="3.5" stroke-linejoin="miter"/>
<path d="M1224.3,1289.1 L1262.0,1289.1 C1262.9,1290.6 1265.2,1295.0 1267.3,1298.1 C1269.4,1301.2 1272.1,1304.3 1274.8,1307.7 C1277.5,1311.1 1280.5,1314.9 1283.3,1318.4 C1286.1,1321.9 1288.9,1325.2 1291.8,1328.5 C1294.7,1331.8 1297.4,1334.9 1300.4,1338.1 C1303.4,1341.3 1306.8,1344.6 1310.0,1347.7 C1313.2,1350.8 1316.4,1353.9 1319.6,1356.8 C1322.8,1359.7 1325.9,1362.5 1329.1,1365.3 C1332.3,1368.1 1335.5,1371.0 1338.7,1373.8 C1341.9,1376.6 1345.1,1379.4 1348.3,1382.3 C1351.5,1385.2 1354.7,1388.3 1357.9,1391.4 C1361.1,1394.5 1364.3,1397.6 1367.5,1401.0 C1370.7,1404.4 1374.1,1408.0 1377.1,1411.7 C1380.1,1415.4 1383.0,1419.3 1385.7,1422.9 C1388.4,1426.5 1390.8,1429.8 1393.1,1433.5 C1395.4,1437.2 1397.5,1441.3 1399.5,1445.2 C1401.5,1449.1 1403.3,1453.1 1404.8,1457.0 C1406.3,1460.9 1407.5,1464.7 1408.6,1468.7 C1409.7,1472.7 1410.4,1476.3 1411.2,1481.0 C1412.0,1485.7 1413.1,1492.0 1413.2,1497.1 C1413.3,1502.2 1412.7,1506.7 1411.9,1511.5 C1411.2,1516.3 1409.9,1521.1 1408.7,1525.9 C1407.5,1530.7 1406.2,1535.4 1404.5,1540.2 C1402.8,1545.0 1401.0,1549.2 1398.5,1554.5 C1396.0,1559.8 1392.9,1566.2 1389.8,1572.0 C1386.7,1577.8 1382.8,1583.7 1379.9,1589.6 C1377.1,1595.5 1374.7,1601.3 1372.7,1607.2 C1370.7,1613.1 1369.0,1619.0 1367.9,1624.8 C1366.8,1630.6 1366.4,1636.4 1366.0,1642.3 C1365.6,1648.2 1365.5,1654.0 1365.5,1659.9 C1365.5,1665.8 1366.0,1671.6 1366.0,1677.5 C1366.0,1683.4 1365.8,1689.5 1365.5,1695.1 C1365.2,1700.7 1364.8,1705.8 1363.9,1711.1 C1363.0,1716.4 1361.6,1721.8 1359.9,1727.1 C1358.2,1732.4 1356.1,1737.7 1353.5,1743.1 C1350.9,1748.5 1347.8,1753.9 1344.2,1759.5 C1340.6,1765.1 1336.3,1770.7 1332.0,1776.5 C1327.7,1782.3 1323.1,1788.5 1318.5,1794.5 C1313.9,1800.5 1309.7,1806.0 1304.5,1812.5 C1299.3,1819.0 1292.1,1827.1 1287.1,1833.6 C1282.1,1840.0 1278.3,1845.3 1274.3,1851.2 C1270.3,1857.1 1266.7,1863.1 1263.2,1868.7 C1259.8,1874.3 1256.5,1879.4 1253.6,1884.7 C1250.7,1890.0 1247.9,1895.4 1245.6,1900.7 C1243.3,1906.0 1241.6,1911.4 1240.0,1916.7 C1238.4,1922.0 1237.1,1927.4 1236.0,1932.7 C1234.9,1938.0 1234.3,1942.8 1233.6,1948.7 C1232.9,1954.6 1232.5,1962.0 1232.0,1967.9 C1231.5,1973.8 1231.2,1978.2 1230.9,1983.9 C1230.6,1989.6 1230.5,1999.0 1230.4,2002.0 L1224.3,2002.0 Z" fill="#E02B2B" stroke="#4f4f4f" stroke-width="3.5" stroke-linejoin="miter"/>
<line x1="1018.3" y1="1356.4" x2="1018.3" y2="1969.2" stroke="#4f4f4f" stroke-width="4.0"/>
<line x1="999.9" y1="1356.4" x2="1037.7" y2="1356.4" stroke="#4f4f4f" stroke-width="3.7"/>
<line x1="999.9" y1="1969.2" x2="1037.7" y2="1969.2" stroke="#4f4f4f" stroke-width="3.7"/>
<rect x="984.5" y="1560" width="68.5" height="249.0" fill="#00BFFF" stroke="#4f4f4f" stroke-width="3.7"/>
<line x1="984.5" y1="1694.2" x2="1053" y2="1694.2" stroke="#4f4f4f" stroke-width="4.0"/>
<line x1="1223.3" y1="1288.1" x2="1223.3" y2="2003.1" stroke="#4f4f4f" stroke-width="4.0"/>
<line x1="1205.6" y1="1288.1" x2="1240.5" y2="1288.1" stroke="#4f4f4f" stroke-width="3.7"/>
<line x1="1205.6" y1="2003.1" x2="1240.5" y2="2003.1" stroke="#4f4f4f" stroke-width="3.7"/>
<rect x="1191" y="1460" width="62.7" height="234.8" fill="#FF0000" stroke="#4f4f4f" stroke-width="3.7"/>
<line x1="1191" y1="1540.6" x2="1253.7" y2="1540.6" stroke="#4f4f4f" stroke-width="4.0"/>
<path d="M1589.4,1298.3 L1574.7,1298.3 C1574.3,1301.4 1573.0,1309.6 1572.3,1316.7 C1571.6,1323.8 1570.7,1333.0 1570.3,1341.1 C1569.9,1349.2 1569.9,1357.3 1569.9,1365.5 C1570.0,1373.7 1570.2,1381.4 1570.6,1390.0 C1571.0,1398.6 1571.7,1407.5 1572.3,1416.9 C1572.9,1426.3 1573.7,1436.4 1574.3,1446.2 C1574.9,1456.0 1575.5,1465.7 1576.0,1475.5 C1576.5,1485.3 1576.9,1495.0 1577.2,1504.8 C1577.5,1514.6 1577.7,1524.4 1577.9,1534.2 C1578.1,1544.0 1578.4,1553.7 1578.4,1563.5 C1578.4,1573.3 1578.2,1583.0 1577.9,1592.8 C1577.6,1602.6 1577.2,1613.2 1576.5,1622.2 C1575.8,1631.2 1575.1,1638.5 1574.0,1646.6 C1572.9,1654.7 1571.6,1662.8 1569.9,1671.0 C1568.2,1679.2 1566.2,1687.3 1563.7,1695.5 C1561.2,1703.7 1558.2,1712.2 1555.2,1719.9 C1552.2,1727.7 1548.6,1735.5 1546.0,1742.0 C1543.4,1748.5 1542.0,1753.2 1539.5,1759.0 C1537.0,1764.8 1534.6,1770.6 1531.1,1776.8 C1527.6,1783.0 1522.8,1789.9 1518.3,1796.0 C1513.8,1802.1 1508.7,1807.7 1503.9,1813.6 C1499.1,1819.5 1494.4,1825.3 1489.6,1831.2 C1484.8,1837.1 1479.7,1842.9 1475.2,1848.7 C1470.7,1854.5 1466.4,1860.7 1462.4,1866.3 C1458.4,1871.9 1454.5,1877.0 1451.2,1882.3 C1447.9,1887.6 1444.8,1893.2 1442.4,1898.3 C1440.0,1903.4 1438.1,1907.9 1436.8,1912.7 C1435.5,1917.5 1434.6,1922.3 1434.4,1927.1 C1434.2,1931.9 1434.6,1936.7 1435.5,1941.5 C1436.4,1946.3 1438.0,1951.4 1440.0,1955.9 C1442.0,1960.4 1444.5,1964.7 1447.2,1968.7 C1449.9,1972.7 1453.2,1976.4 1456.0,1979.9 C1458.8,1983.4 1461.9,1987.0 1464.0,1989.5 C1466.1,1992.0 1468.0,1994.0 1468.8,1994.9 L1589.4,1994.9 Z" fill="#2DB3E3" stroke="#4f4f4f" stroke-width="3.5" stroke-linejoin="miter"/>
<path d="M1793.0,1283.2 L1946.3,1283.2 C1947.9,1284.7 1952.7,1288.7 1955.9,1292.0 C1959.1,1295.3 1962.7,1299.5 1965.5,1303.2 C1968.3,1306.9 1970.8,1310.7 1972.6,1314.4 C1974.4,1318.1 1975.8,1322.1 1976.6,1325.6 C1977.4,1329.1 1977.6,1331.7 1977.4,1335.2 C1977.2,1338.7 1976.6,1342.7 1975.4,1346.4 C1974.2,1350.1 1972.4,1353.8 1970.2,1357.5 C1968.0,1361.2 1965.5,1365.0 1962.3,1368.7 C1959.1,1372.4 1955.4,1376.2 1951.1,1379.9 C1946.8,1383.6 1941.8,1387.4 1936.7,1391.1 C1931.6,1394.8 1926.0,1398.6 1920.7,1402.3 C1915.4,1406.0 1910.0,1409.8 1904.7,1413.5 C1899.4,1417.2 1893.8,1421.0 1888.7,1424.7 C1883.6,1428.4 1878.8,1432.2 1874.3,1435.9 C1869.8,1439.6 1865.5,1443.4 1861.5,1447.1 C1857.5,1450.8 1853.8,1454.6 1850.3,1458.3 C1846.8,1462.0 1843.6,1465.8 1840.7,1469.5 C1837.8,1473.2 1835.1,1477.0 1832.7,1480.7 C1830.3,1484.4 1828.2,1488.2 1826.3,1491.9 C1824.4,1495.6 1823.0,1499.1 1821.5,1503.1 C1820.0,1507.1 1818.7,1511.6 1817.5,1515.9 C1816.3,1520.2 1815.2,1524.5 1814.3,1528.7 C1813.4,1533.0 1812.9,1535.9 1811.9,1541.4 C1810.9,1547.0 1809.6,1553.3 1808.5,1562.0 C1807.4,1570.7 1806.1,1583.6 1805.4,1593.8 C1804.7,1604.0 1804.5,1613.3 1804.4,1623.1 C1804.3,1632.9 1804.5,1642.6 1805.0,1652.4 C1805.5,1662.2 1806.6,1672.0 1807.4,1681.8 C1808.2,1691.6 1809.1,1701.3 1809.9,1711.1 C1810.7,1720.9 1811.7,1730.6 1812.3,1740.4 C1812.9,1750.2 1813.4,1759.9 1813.5,1769.7 C1813.6,1779.5 1813.4,1789.3 1813.0,1799.1 C1812.6,1808.9 1811.8,1818.6 1811.1,1828.4 C1810.4,1838.2 1809.4,1847.9 1808.6,1857.7 C1807.8,1867.5 1806.9,1877.2 1806.2,1887.0 C1805.5,1896.8 1804.9,1906.6 1804.2,1916.4 C1803.5,1926.2 1802.7,1935.9 1802.0,1945.7 C1801.3,1955.5 1800.6,1967.5 1800.1,1975.0 C1799.6,1982.5 1799.1,1988.2 1798.9,1990.9 L1793.0,1990.9 Z" fill="#E02B2B" stroke="#4f4f4f" stroke-width="3.5" stroke-linejoin="miter"/>
<line x1="1591.2" y1="1647.8" x2="1591.2" y2="1997.8" stroke="#4f4f4f" stroke-width="4.0"/>
<line x1="1575.1" y1="1647.8" x2="1607.8" y2="1647.8" stroke="#4f4f4f" stroke-width="3.7"/>
<line x1="1575.1" y1="1997.8" x2="1607.8" y2="1997.8" stroke="#4f4f4f" stroke-width="3.7"/>
<rect x="1560.4" y="1830.4" width="61.9" height="138.0" fill="#00BFFF" stroke="#4f4f4f" stroke-width="3.7"/>
<line x1="1560.4" y1="1911.9" x2="1622.3" y2="1911.9" stroke="#4f4f4f" stroke-width="4.0"/>
<line x1="1792.3" y1="1282.4" x2="1792.3" y2="1480.4" stroke="#4f4f4f" stroke-width="4.0"/>
<line x1="1775.2" y1="1282.4" x2="1808.7" y2="1282.4" stroke="#4f4f4f" stroke-width="3.7"/>
<line x1="1775.2" y1="1480.4" x2="1808.7" y2="1480.4" stroke="#4f4f4f" stroke-width="3.7"/>
<rect x="1761.1" y="1309.6" width="62.0" height="77.5" fill="#FF0000" stroke="#4f4f4f" stroke-width="3.7"/>
<line x1="1761.1" y1="1330.4" x2="1823.1" y2="1330.4" stroke="#4f4f4f" stroke-width="4.0"/>
<circle cx="1118.6" cy="1357.6" r="4.2" fill="#0FC0FA"/>
<circle cx="1103.5" cy="1371.7" r="4.2" fill="#0FC0FA"/>
<circle cx="1164.3" cy="1378.7" r="4.2" fill="#0FC0FA"/>
<circle cx="1095.2" cy="1385.5" r="4.2" fill="#0FC0FA"/>
<circle cx="1129.5" cy="1433.3" r="4.2" fill="#0FC0FA"/>
<circle cx="1110.6" cy="1447.5" r="4.2" fill="#0FC0FA"/>
<circle cx="1135.7" cy="1447.5" r="4.2" fill="#0FC0FA"/>
<circle cx="1067.9" cy="1454.3" r="4.2" fill="#0FC0FA"/>
<circle cx="1097.5" cy="1454.6" r="4.2" fill="#0FC0FA"/>
<circle cx="1135.7" cy="1454.6" r="4.2" fill="#0FC0FA"/>
<circle cx="1178.5" cy="1454.6" r="4.2" fill="#0FC0FA"/>
<circle cx="1135.1" cy="1461.8" r="4.2" fill="#0FC0FA"/>
<circle cx="1158.7" cy="1461.8" r="4.2" fill="#0FC0FA"/>
<circle cx="1070.1" cy="1503.0" r="4.2" fill="#0FC0FA"/>
<circle cx="1134.6" cy="1509.8" r="4.2" fill="#0FC0FA"/>
<circle cx="1092.4" cy="1516.6" r="4.2" fill="#0FC0FA"/>
<circle cx="1141.7" cy="1516.6" r="4.2" fill="#0FC0FA"/>
<circle cx="1145.9" cy="1516.6" r="4.2" fill="#0FC0FA"/>
<circle cx="1170.9" cy="1523.8" r="4.2" fill="#0FC0FA"/>
<circle cx="1116.9" cy="1530.9" r="4.2" fill="#0FC0FA"/>
<circle cx="1158.3" cy="1530.9" r="4.2" fill="#0FC0FA"/>
<circle cx="1184.1" cy="1530.9" r="4.2" fill="#0FC0FA"/>
<circle cx="1179.0" cy="1545.1" r="4.2" fill="#0FC0FA"/>
<circle cx="1124.2" cy="1565.2" r="4.2" fill="#0FC0FA"/>
<circle cx="1064.5" cy="1572.4" r="4.2" fill="#0FC0FA"/>
<circle cx="1073.5" cy="1572.4" r="4.2" fill="#0FC0FA"/>
<circle cx="1090.1" cy="1572.4" r="4.2" fill="#0FC0FA"/>
<circle cx="1078.4" cy="1585.9" r="4.2" fill="#0FC0FA"/>
<circle cx="1062.2" cy="1599.7" r="4.2" fill="#0FC0FA"/>
<circle cx="1138.3" cy="1606.7" r="4.2" fill="#0FC0FA"/>
<circle cx="1178.5" cy="1606.7" r="4.2" fill="#0FC0FA"/>
<circle cx="1124.8" cy="1613.8" r="4.2" fill="#0FC0FA"/>
<circle cx="1162.1" cy="1613.8" r="4.2" fill="#0FC0FA"/>
<circle cx="1081.4" cy="1634.5" r="4.2" fill="#0FC0FA"/>
<circle cx="1109.7" cy="1644.5" r="4.2" fill="#0FC0FA"/>
<circle cx="1065.4" cy="1648.6" r="4.2" fill="#0FC0FA"/>
<circle cx="1090.5" cy="1648.6" r="4.2" fill="#0FC0FA"/>
<circle cx="1111.2" cy="1648.6" r="4.2" fill="#0FC0FA"/>
<circle cx="1116.3" cy="1648.6" r="4.2" fill="#0FC0FA"/>
<circle cx="1090.9" cy="1655.4" r="4.2" fill="#0FC0FA"/>
<circle cx="1096.1" cy="1655.4" r="4.2" fill="#0FC0FA"/>
<circle cx="1157.7" cy="1655.4" r="4.2" fill="#0FC0FA"/>
<circle cx="1066.8" cy="1662.4" r="4.2" fill="#0FC0FA"/>
<circle cx="1170.9" cy="1662.4" r="4.2" fill="#0FC0FA"/>
<circle cx="1065.1" cy="1669.9" r="4.2" fill="#0FC0FA"/>
<circle cx="1107.8" cy="1669.4" r="4.2" fill="#0FC0FA"/>
<circle cx="1180.0" cy="1669.5" r="4.2" fill="#0FC0FA"/>
<circle cx="1144.0" cy="1717.6" r="4.2" fill="#0FC0FA"/>
<circle cx="1162.8" cy="1717.6" r="4.2" fill="#0FC0FA"/>
<circle cx="1102.7" cy="1724.2" r="4.2" fill="#0FC0FA"/>
<circle cx="1076.4" cy="1731.5" r="4.2" fill="#0FC0FA"/>
<circle cx="1115.7" cy="1731.5" r="4.2" fill="#0FC0FA"/>
<circle cx="1099.9" cy="1738.7" r="4.2" fill="#0FC0FA"/>
<circle cx="1104.4" cy="1738.7" r="4.2" fill="#0FC0FA"/>
<circle cx="1109.0" cy="1738.7" r="4.2" fill="#0FC0FA"/>
<circle cx="1122.9" cy="1745.3" r="4.2" fill="#0FC0FA"/>
<circle cx="1095.8" cy="1752.8" r="4.2" fill="#0FC0FA"/>
<circle cx="1112.9" cy="1752.4" r="4.2" fill="#0FC0FA"/>
<circle cx="1125.7" cy="1752.4" r="4.2" fill="#0FC0FA"/>
<circle cx="1137.0" cy="1752.4" r="4.2" fill="#0FC0FA"/>
<circle cx="1058.3" cy="1759.4" r="4.2" fill="#0FC0FA"/>
<circle cx="1107.4" cy="1759.8" r="4.2" fill="#0FC0FA"/>
<circle cx="1126.1" cy="1759.4" r="4.2" fill="#0FC0FA"/>
<circle cx="1139.5" cy="1759.4" r="4.2" fill="#0FC0FA"/>
<circle cx="1123.8" cy="1780.5" r="4.2" fill="#0FC0FA"/>
<circle cx="1063.4" cy="1793.7" r="4.2" fill="#0FC0FA"/>
<circle cx="1108.4" cy="1793.7" r="4.2" fill="#0FC0FA"/>
<circle cx="1094.6" cy="1807.6" r="4.2" fill="#0FC0FA"/>
<circle cx="1128.2" cy="1807.6" r="4.2" fill="#0FC0FA"/>
<circle cx="1136.1" cy="1807.6" r="4.2" fill="#0FC0FA"/>
<circle cx="1170.4" cy="1807.6" r="4.2" fill="#0FC0FA"/>
<circle cx="1079.4" cy="1821.6" r="4.2" fill="#0FC0FA"/>
<circle cx="1067.9" cy="1828.6" r="4.2" fill="#0FC0FA"/>
<circle cx="1088.0" cy="1828.6" r="4.2" fill="#0FC0FA"/>
<circle cx="1159.3" cy="1828.6" r="4.2" fill="#0FC0FA"/>
<circle cx="1173.8" cy="1828.6" r="4.2" fill="#0FC0FA"/>
<circle cx="1102.5" cy="1835.3" r="4.2" fill="#0FC0FA"/>
<circle cx="1156.1" cy="1835.3" r="4.2" fill="#0FC0FA"/>
<circle cx="1084.6" cy="1849.5" r="4.2" fill="#0FC0FA"/>
<circle cx="1119.1" cy="1849.5" r="4.2" fill="#0FC0FA"/>
<circle cx="1068.1" cy="1870.2" r="4.2" fill="#0FC0FA"/>
<circle cx="1105.9" cy="1876.8" r="4.2" fill="#0FC0FA"/>
<circle cx="1094.6" cy="1890.7" r="4.2" fill="#0FC0FA"/>
<circle cx="1147.6" cy="1890.7" r="4.2" fill="#0FC0FA"/>
<circle cx="1123.5" cy="1897.3" r="4.2" fill="#0FC0FA"/>
<circle cx="1114.8" cy="1904.5" r="4.2" fill="#0FC0FA"/>
<circle cx="1149.3" cy="1903.9" r="4.2" fill="#0FC0FA"/>
<circle cx="1154.5" cy="1903.9" r="4.2" fill="#0FC0FA"/>
<circle cx="1176.8" cy="1904.3" r="4.2" fill="#0FC0FA"/>
<circle cx="1148.7" cy="1911.6" r="4.2" fill="#0FC0FA"/>
<circle cx="1132.1" cy="1918.4" r="4.2" fill="#0FC0FA"/>
<circle cx="1157.6" cy="1918.4" r="4.2" fill="#0FC0FA"/>
<circle cx="1109.0" cy="1967.0" r="4.2" fill="#0FC0FA"/>
<circle cx="1160.6" cy="1285.4" r="4.2" fill="#FF0000"/>
<circle cx="1135.7" cy="1306.7" r="4.2" fill="#FF0000"/>
<circle cx="1178.5" cy="1313.7" r="4.2" fill="#FF0000"/>
<circle cx="1174.1" cy="1327.8" r="4.2" fill="#FF0000"/>
<circle cx="1091.8" cy="1363.1" r="4.2" fill="#FF0000"/>
<circle cx="1160.2" cy="1363.1" r="4.2" fill="#FF0000"/>
<circle cx="1131.9" cy="1370.2" r="4.2" fill="#FF0000"/>
<circle cx="1138.9" cy="1377.4" r="4.2" fill="#FF0000"/>
<circle cx="1111.6" cy="1384.2" r="4.2" fill="#FF0000"/>
<circle cx="1155.3" cy="1384.2" r="4.2" fill="#FF0000"/>
<circle cx="1171.9" cy="1384.2" r="4.2" fill="#FF0000"/>
<circle cx="1080.9" cy="1404.9" r="4.2" fill="#FF0000"/>
<circle cx="1173.8" cy="1411.9" r="4.2" fill="#FF0000"/>
<circle cx="1125.2" cy="1418.8" r="4.2" fill="#FF0000"/>
<circle cx="1150.0" cy="1418.8" r="4.2" fill="#FF0000"/>
<circle cx="1095.0" cy="1432.8" r="4.2" fill="#FF0000"/>
<circle cx="1099.9" cy="1432.8" r="4.2" fill="#FF0000"/>
<circle cx="1117.2" cy="1432.8" r="4.2" fill="#FF0000"/>
<circle cx="1105.0" cy="1439.9" r="4.2" fill="#FF0000"/>
<circle cx="1127.2" cy="1439.9" r="4.2" fill="#FF0000"/>
<circle cx="1170.0" cy="1439.9" r="4.2" fill="#FF0000"/>
<circle cx="1101.8" cy="1447.1" r="4.2" fill="#FF0000"/>
<circle cx="1151.2" cy="1447.1" r="4.2" fill="#FF0000"/>
<circle cx="1160.6" cy="1447.1" r="4.2" fill="#FF0000"/>
<circle cx="1059.8" cy="1461.4" r="4.2" fill="#FF0000"/>
<circle cx="1065.1" cy="1461.4" r="4.2" fill="#FF0000"/>
<circle cx="1080.3" cy="1461.4" r="4.2" fill="#FF0000"/>
<circle cx="1118.7" cy="1461.4" r="4.2" fill="#FF0000"/>
<circle cx="1122.0" cy="1461.4" r="4.2" fill="#FF0000"/>
<circle cx="1157.7" cy="1482.3" r="4.2" fill="#FF0000"/>
<circle cx="1105.9" cy="1503.0" r="4.2" fill="#FF0000"/>
<circle cx="1127.6" cy="1503.0" r="4.2" fill="#FF0000"/>
<circle cx="1173.8" cy="1503.0" r="4.2" fill="#FF0000"/>
<circle cx="1177.9" cy="1503.0" r="4.2" fill="#FF0000"/>
<circle cx="1158.7" cy="1516.6" r="4.2" fill="#FF0000"/>
<circle cx="1161.5" cy="1516.6" r="4.2" fill="#FF0000"/>
<circle cx="1176.0" cy="1516.6" r="4.2" fill="#FF0000"/>
<circle cx="1183.6" cy="1516.6" r="4.2" fill="#FF0000"/>
<circle cx="1132.7" cy="1523.8" r="4.2" fill="#FF0000"/>
<circle cx="1145.1" cy="1523.8" r="4.2" fill="#FF0000"/>
<circle cx="1061.7" cy="1530.9" r="4.2" fill="#FF0000"/>
<circle cx="1079.2" cy="1530.9" r="4.2" fill="#FF0000"/>
<circle cx="1096.9" cy="1530.9" r="4.2" fill="#FF0000"/>
<circle cx="1162.5" cy="1530.9" r="4.2" fill="#FF0000"/>
<circle cx="1176.6" cy="1530.9" r="4.2" fill="#FF0000"/>
<circle cx="1180.4" cy="1530.9" r="4.2" fill="#FF0000"/>
<circle cx="1081.4" cy="1537.9" r="4.2" fill="#FF0000"/>
<circle cx="1127.6" cy="1537.9" r="4.2" fill="#FF0000"/>
<circle cx="1170.9" cy="1537.9" r="4.2" fill="#FF0000"/>
<circle cx="1179.0" cy="1537.9" r="4.2" fill="#FF0000"/>
<circle cx="1122.0" cy="1566.2" r="4.2" fill="#FF0000"/>
<circle cx="1139.5" cy="1566.2" r="4.2" fill="#FF0000"/>
<circle cx="1151.2" cy="1566.2" r="4.2" fill="#FF0000"/>
<circle cx="1137.6" cy="1573.3" r="4.2" fill="#FF0000"/>
<circle cx="1092.2" cy="1587.1" r="4.2" fill="#FF0000"/>
<circle cx="1067.9" cy="1600.6" r="4.2" fill="#FF0000"/>
<circle cx="1149.8" cy="1600.6" r="4.2" fill="#FF0000"/>
<circle cx="1073.9" cy="1607.8" r="4.2" fill="#FF0000"/>
<circle cx="1133.8" cy="1607.8" r="4.2" fill="#FF0000"/>
<circle cx="1080.5" cy="1614.8" r="4.2" fill="#FF0000"/>
<circle cx="1113.5" cy="1614.8" r="4.2" fill="#FF0000"/>
<circle cx="1171.9" cy="1614.8" r="4.2" fill="#FF0000"/>
<circle cx="1107.8" cy="1635.4" r="4.2" fill="#FF0000"/>
<circle cx="1102.7" cy="1643.0" r="4.2" fill="#FF0000"/>
<circle cx="1127.2" cy="1649.8" r="4.2" fill="#FF0000"/>
<circle cx="1126.1" cy="1663.9" r="4.2" fill="#FF0000"/>
<circle cx="1139.5" cy="1663.9" r="4.2" fill="#FF0000"/>
<circle cx="1059.8" cy="1670.9" r="4.2" fill="#FF0000"/>
<circle cx="1109.7" cy="1670.9" r="4.2" fill="#FF0000"/>
<circle cx="1138.0" cy="1685.4" r="4.2" fill="#FF0000"/>
<circle cx="1153.0" cy="1685.4" r="4.2" fill="#FF0000"/>
<circle cx="1097.6" cy="1692.2" r="4.2" fill="#FF0000"/>
<circle cx="1118.7" cy="1692.2" r="4.2" fill="#FF0000"/>
<circle cx="1082.8" cy="1713.3" r="4.2" fill="#FF0000"/>
<circle cx="1078.1" cy="1720.4" r="4.2" fill="#FF0000"/>
<circle cx="1114.0" cy="1720.4" r="4.2" fill="#FF0000"/>
<circle cx="1127.6" cy="1720.4" r="4.2" fill="#FF0000"/>
<circle cx="1179.4" cy="1720.4" r="4.2" fill="#FF0000"/>
<circle cx="1120.1" cy="1727.4" r="4.2" fill="#FF0000"/>
<circle cx="1136.1" cy="1727.4" r="4.2" fill="#FF0000"/>
<circle cx="1091.8" cy="1734.0" r="4.2" fill="#FF0000"/>
<circle cx="1067.7" cy="1741.1" r="4.2" fill="#FF0000"/>
<circle cx="1079.9" cy="1741.1" r="4.2" fill="#FF0000"/>
<circle cx="1126.3" cy="1741.1" r="4.2" fill="#FF0000"/>
<circle cx="1178.1" cy="1741.1" r="4.2" fill="#FF0000"/>
<circle cx="1093.1" cy="1748.1" r="4.2" fill="#FF0000"/>
<circle cx="1108.2" cy="1754.9" r="4.2" fill="#FF0000"/>
<circle cx="1163.8" cy="1776.0" r="4.2" fill="#FF0000"/>
<circle cx="1153.8" cy="1783.0" r="4.2" fill="#FF0000"/>
<circle cx="1118.0" cy="1797.1" r="4.2" fill="#FF0000"/>
<circle cx="1081.8" cy="1804.3" r="4.2" fill="#FF0000"/>
<circle cx="1087.5" cy="1804.3" r="4.2" fill="#FF0000"/>
<circle cx="1091.2" cy="1825.0" r="4.2" fill="#FF0000"/>
<circle cx="1060.0" cy="1832.3" r="4.2" fill="#FF0000"/>
<circle cx="1125.2" cy="1845.7" r="4.2" fill="#FF0000"/>
<circle cx="1174.7" cy="1845.7" r="4.2" fill="#FF0000"/>
<circle cx="1089.5" cy="2000.4" r="4.2" fill="#FF0000"/>
<circle cx="1661.4" cy="1283.6" r="4.15" fill="#FF0000"/>
<circle cx="1674.6" cy="1286.6" r="4.15" fill="#FF0000"/>
<circle cx="1724.7" cy="1282.4" r="4.15" fill="#FF0000"/>
<circle cx="1745.8" cy="1282.4" r="4.15" fill="#FF0000"/>
<circle cx="1679.0" cy="1294.5" r="4.15" fill="#FF0000"/>
<circle cx="1694.4" cy="1293.7" r="4.15" fill="#FF0000"/>
<circle cx="1669.4" cy="1296.4" r="4.15" fill="#FF0000"/>
<circle cx="1736.2" cy="1295.4" r="4.15" fill="#FF0000"/>
<circle cx="1747.5" cy="1293.7" r="4.15" fill="#FF0000"/>
<circle cx="1642.0" cy="1301.5" r="4.15" fill="#FF0000"/>
<circle cx="1702.9" cy="1300.1" r="4.15" fill="#FF0000"/>
<circle cx="1708.5" cy="1302.0" r="4.15" fill="#FF0000"/>
<circle cx="1715.1" cy="1303.0" r="4.15" fill="#FF0000"/>
<circle cx="1681.2" cy="1302.4" r="4.15" fill="#FF0000"/>
<circle cx="1738.7" cy="1303.9" r="4.15" fill="#FF0000"/>
<circle cx="1648.8" cy="1309.6" r="4.15" fill="#FF0000"/>
<circle cx="1672.4" cy="1309.6" r="4.15" fill="#FF0000"/>
<circle cx="1697.6" cy="1308.2" r="4.15" fill="#FF0000"/>
<circle cx="1708.5" cy="1308.6" r="4.15" fill="#FF0000"/>
<circle cx="1724.6" cy="1309.2" r="4.15" fill="#FF0000"/>
<circle cx="1735.9" cy="1309.6" r="4.15" fill="#FF0000"/>
<circle cx="1744.7" cy="1309.6" r="4.15" fill="#FF0000"/>
<circle cx="1643.5" cy="1314.6" r="4.15" fill="#FF0000"/>
<circle cx="1683.5" cy="1313.7" r="4.15" fill="#FF0000"/>
<circle cx="1707.0" cy="1315.2" r="4.15" fill="#FF0000"/>
<circle cx="1711.9" cy="1315.2" r="4.15" fill="#FF0000"/>
<circle cx="1723.6" cy="1315.2" r="4.15" fill="#FF0000"/>
<circle cx="1636.6" cy="1319.4" r="4.15" fill="#FF0000"/>
<circle cx="1673.3" cy="1318.6" r="4.15" fill="#FF0000"/>
<circle cx="1706.3" cy="1318.6" r="4.15" fill="#FF0000"/>
<circle cx="1719.8" cy="1319.0" r="4.15" fill="#FF0000"/>
<circle cx="1733.0" cy="1321.2" r="4.15" fill="#FF0000"/>
<circle cx="1747.7" cy="1320.9" r="4.15" fill="#FF0000"/>
<circle cx="1668.0" cy="1322.4" r="4.15" fill="#FF0000"/>
<circle cx="1641.3" cy="1324.1" r="4.15" fill="#FF0000"/>
<circle cx="1645.4" cy="1323.7" r="4.15" fill="#FF0000"/>
<circle cx="1694.0" cy="1325.2" r="4.15" fill="#FF0000"/>
<circle cx="1737.2" cy="1325.6" r="4.15" fill="#FF0000"/>
<circle cx="1743.4" cy="1323.3" r="4.15" fill="#FF0000"/>
<circle cx="1748.1" cy="1328.8" r="4.15" fill="#FF0000"/>
<circle cx="1634.7" cy="1330.7" r="4.15" fill="#FF0000"/>
<circle cx="1637.3" cy="1334.1" r="4.15" fill="#FF0000"/>
<circle cx="1677.5" cy="1330.7" r="4.15" fill="#FF0000"/>
<circle cx="1685.6" cy="1329.3" r="4.15" fill="#FF0000"/>
<circle cx="1702.5" cy="1332.2" r="4.15" fill="#FF0000"/>
<circle cx="1722.3" cy="1330.3" r="4.15" fill="#FF0000"/>
<circle cx="1665.2" cy="1337.8" r="4.15" fill="#FF0000"/>
<circle cx="1699.7" cy="1341.0" r="4.15" fill="#FF0000"/>
<circle cx="1742.1" cy="1341.6" r="4.15" fill="#FF0000"/>
<circle cx="1746.2" cy="1338.2" r="4.15" fill="#FF0000"/>
<circle cx="1649.8" cy="1347.2" r="4.15" fill="#FF0000"/>
<circle cx="1665.8" cy="1348.2" r="4.15" fill="#FF0000"/>
<circle cx="1671.2" cy="1357.8" r="4.15" fill="#FF0000"/>
<circle cx="1712.3" cy="1358.5" r="4.15" fill="#FF0000"/>
<circle cx="1715.7" cy="1360.4" r="4.15" fill="#FF0000"/>
<circle cx="1750.9" cy="1359.7" r="4.15" fill="#FF0000"/>
<circle cx="1724.0" cy="1368.9" r="4.15" fill="#FF0000"/>
<circle cx="1671.2" cy="1373.2" r="4.15" fill="#FF0000"/>
<circle cx="1675.6" cy="1376.8" r="4.15" fill="#FF0000"/>
<circle cx="1690.6" cy="1373.6" r="4.15" fill="#FF0000"/>
<circle cx="1694.0" cy="1374.6" r="4.15" fill="#FF0000"/>
<circle cx="1703.3" cy="1375.9" r="4.15" fill="#FF0000"/>
<circle cx="1650.1" cy="1378.9" r="4.15" fill="#FF0000"/>
<circle cx="1663.7" cy="1381.2" r="4.15" fill="#FF0000"/>
<circle cx="1689.3" cy="1382.1" r="4.15" fill="#FF0000"/>
<circle cx="1643.5" cy="1384.9" r="4.15" fill="#FF0000"/>
<circle cx="1692.5" cy="1387.7" r="4.15" fill="#FF0000"/>
<circle cx="1690.6" cy="1391.5" r="4.15" fill="#FF0000"/>
<circle cx="1715.1" cy="1388.7" r="4.15" fill="#FF0000"/>
<circle cx="1648.8" cy="1404.7" r="4.15" fill="#FF0000"/>
<circle cx="1684.6" cy="1405.3" r="4.15" fill="#FF0000"/>
<circle cx="1685.6" cy="1409.8" r="4.15" fill="#FF0000"/>
<circle cx="1685.2" cy="1454.3" r="4.15" fill="#FF0000"/>
<circle cx="1747.2" cy="1469.7" r="4.15" fill="#FF0000"/>
<circle cx="1699.1" cy="1475.0" r="4.15" fill="#FF0000"/>
<circle cx="1756.2" cy="1483.3" r="4.15" fill="#FF0000"/>
<circle cx="1738.1" cy="1520.6" r="4.15" fill="#FF0000"/>
<circle cx="1643.5" cy="1556.0" r="4.15" fill="#FF0000"/>
<circle cx="1673.5" cy="1579.5" r="4.15" fill="#FF0000"/>
<circle cx="1695.9" cy="1599.3" r="4.15" fill="#FF0000"/>
<circle cx="1700.4" cy="1671.8" r="4.15" fill="#FF0000"/>
<circle cx="1698.0" cy="1746.2" r="4.15" fill="#FF0000"/>
<circle cx="1707.6" cy="1749.6" r="4.15" fill="#FF0000"/>
<circle cx="1653.9" cy="1754.3" r="4.15" fill="#FF0000"/>
<circle cx="1683.1" cy="1760.6" r="4.15" fill="#FF0000"/>
<circle cx="1687.4" cy="1760.0" r="4.15" fill="#FF0000"/>
<circle cx="1653.9" cy="1826.5" r="4.15" fill="#FF0000"/>
<circle cx="1682.7" cy="1837.8" r="4.15" fill="#FF0000"/>
<circle cx="1684.6" cy="1896.6" r="4.15" fill="#FF0000"/>
<circle cx="1748.1" cy="1899.4" r="4.15" fill="#FF0000"/>
<circle cx="1635.3" cy="1911.7" r="4.15" fill="#FF0000"/>
<circle cx="1653.0" cy="1990.4" r="4.15" fill="#FF0000"/>
<circle cx="1667.5" cy="1303.9" r="4.15" fill="#0FC0FA"/>
<circle cx="1728.7" cy="1303.3" r="4.15" fill="#0FC0FA"/>
<circle cx="1713.8" cy="1341.2" r="4.15" fill="#0FC0FA"/>
<circle cx="1649.6" cy="1363.8" r="4.15" fill="#0FC0FA"/>
<circle cx="1661.6" cy="1363.6" r="4.15" fill="#0FC0FA"/>
<circle cx="1727.4" cy="1375.5" r="4.15" fill="#0FC0FA"/>
<circle cx="1744.9" cy="1380.8" r="4.15" fill="#0FC0FA"/>
<circle cx="1759.0" cy="1396.2" r="4.15" fill="#0FC0FA"/>
<circle cx="1756.2" cy="1471.6" r="4.15" fill="#0FC0FA"/>
<circle cx="1745.8" cy="1496.6" r="4.15" fill="#0FC0FA"/>
<circle cx="1640.5" cy="1521.5" r="4.15" fill="#0FC0FA"/>
<circle cx="1759.4" cy="1554.9" r="4.15" fill="#0FC0FA"/>
<circle cx="1669.4" cy="1650.7" r="4.15" fill="#0FC0FA"/>
<circle cx="1701.6" cy="1659.2" r="4.15" fill="#0FC0FA"/>
<circle cx="1717.6" cy="1668.1" r="4.15" fill="#0FC0FA"/>
<circle cx="1701.2" cy="1736.4" r="4.15" fill="#0FC0FA"/>
<circle cx="1718.7" cy="1752.1" r="4.15" fill="#0FC0FA"/>
<circle cx="1731.2" cy="1769.4" r="4.15" fill="#0FC0FA"/>
<circle cx="1750.0" cy="1781.1" r="4.15" fill="#0FC0FA"/>
<circle cx="1693.1" cy="1801.1" r="4.15" fill="#0FC0FA"/>
<circle cx="1678.6" cy="1806.5" r="4.15" fill="#0FC0FA"/>
<circle cx="1661.3" cy="1815.9" r="4.15" fill="#0FC0FA"/>
<circle cx="1725.7" cy="1816.1" r="4.15" fill="#0FC0FA"/>
<circle cx="1692.7" cy="1833.5" r="4.15" fill="#0FC0FA"/>
<circle cx="1704.8" cy="1832.5" r="4.15" fill="#0FC0FA"/>
<circle cx="1709.5" cy="1833.8" r="4.15" fill="#0FC0FA"/>
<circle cx="1735.5" cy="1831.2" r="4.15" fill="#0FC0FA"/>
<circle cx="1750.9" cy="1834.4" r="4.15" fill="#0FC0FA"/>
<circle cx="1747.2" cy="1838.2" r="4.15" fill="#0FC0FA"/>
<circle cx="1678.2" cy="1842.5" r="4.15" fill="#0FC0FA"/>
<circle cx="1742.6" cy="1843.8" r="4.15" fill="#0FC0FA"/>
<circle cx="1651.3" cy="1856.1" r="4.15" fill="#0FC0FA"/>
<circle cx="1692.7" cy="1854.2" r="4.15" fill="#0FC0FA"/>
<circle cx="1714.4" cy="1867.8" r="4.15" fill="#0FC0FA"/>
<circle cx="1732.7" cy="1864.9" r="4.15" fill="#0FC0FA"/>
<circle cx="1763.7" cy="1873.0" r="4.15" fill="#0FC0FA"/>
<circle cx="1671.2" cy="1879.8" r="4.15" fill="#0FC0FA"/>
<circle cx="1689.3" cy="1879.1" r="4.15" fill="#0FC0FA"/>
<circle cx="1641.7" cy="1883.8" r="4.15" fill="#0FC0FA"/>
<circle cx="1701.6" cy="1887.2" r="4.15" fill="#0FC0FA"/>
<circle cx="1764.1" cy="1885.7" r="4.15" fill="#0FC0FA"/>
<circle cx="1685.2" cy="1891.5" r="4.15" fill="#0FC0FA"/>
<circle cx="1638.7" cy="1894.5" r="4.15" fill="#0FC0FA"/>
<circle cx="1760.0" cy="1898.8" r="4.15" fill="#0FC0FA"/>
<circle cx="1733.2" cy="1901.7" r="4.15" fill="#0FC0FA"/>
<circle cx="1727.4" cy="1905.1" r="4.15" fill="#0FC0FA"/>
<circle cx="1723.2" cy="1907.3" r="4.15" fill="#0FC0FA"/>
<circle cx="1666.0" cy="1908.8" r="4.15" fill="#0FC0FA"/>
<circle cx="1643.2" cy="1914.5" r="4.15" fill="#0FC0FA"/>
<circle cx="1683.5" cy="1913.9" r="4.15" fill="#0FC0FA"/>
<circle cx="1706.9" cy="1913.2" r="4.15" fill="#0FC0FA"/>
<circle cx="1656.2" cy="1917.7" r="4.15" fill="#0FC0FA"/>
<circle cx="1678.0" cy="1917.7" r="4.15" fill="#0FC0FA"/>
<circle cx="1670.5" cy="1922.4" r="4.15" fill="#0FC0FA"/>
<circle cx="1693.1" cy="1921.4" r="4.15" fill="#0FC0FA"/>
<circle cx="1728.7" cy="1923.9" r="4.15" fill="#0FC0FA"/>
<circle cx="1684.1" cy="1925.8" r="4.15" fill="#0FC0FA"/>
<circle cx="1657.7" cy="1933.3" r="4.15" fill="#0FC0FA"/>
<circle cx="1762.6" cy="1935.2" r="4.15" fill="#0FC0FA"/>
<circle cx="1665.2" cy="1939.0" r="4.15" fill="#0FC0FA"/>
<circle cx="1697.8" cy="1938.0" r="4.15" fill="#0FC0FA"/>
<circle cx="1760.0" cy="1945.0" r="4.15" fill="#0FC0FA"/>
<circle cx="1662.6" cy="1951.2" r="4.15" fill="#0FC0FA"/>
<circle cx="1751.9" cy="1951.6" r="4.15" fill="#0FC0FA"/>
<circle cx="1759.4" cy="1952.5" r="4.15" fill="#0FC0FA"/>
<circle cx="1735.9" cy="1956.9" r="4.15" fill="#0FC0FA"/>
<circle cx="1718.9" cy="1959.7" r="4.15" fill="#0FC0FA"/>
<circle cx="1646.8" cy="1963.8" r="4.15" fill="#0FC0FA"/>
<circle cx="1664.1" cy="1965.0" r="4.15" fill="#0FC0FA"/>
<circle cx="1679.9" cy="1963.8" r="4.15" fill="#0FC0FA"/>
<circle cx="1753.8" cy="1965.3" r="4.15" fill="#0FC0FA"/>
<circle cx="1661.8" cy="1971.6" r="4.15" fill="#0FC0FA"/>
<circle cx="1735.9" cy="1970.1" r="4.15" fill="#0FC0FA"/>
<circle cx="1690.6" cy="1973.3" r="4.15" fill="#0FC0FA"/>
<circle cx="1673.1" cy="1973.8" r="4.15" fill="#0FC0FA"/>
<circle cx="1726.6" cy="1973.3" r="4.15" fill="#0FC0FA"/>
<circle cx="1753.8" cy="1973.8" r="4.15" fill="#0FC0FA"/>
<circle cx="1640.2" cy="1977.6" r="4.15" fill="#0FC0FA"/>
<circle cx="1686.3" cy="1978.5" r="4.15" fill="#0FC0FA"/>
<circle cx="1692.5" cy="1981.4" r="4.15" fill="#0FC0FA"/>
<circle cx="1731.2" cy="1983.2" r="4.15" fill="#0FC0FA"/>
<circle cx="1715.7" cy="1984.2" r="4.15" fill="#0FC0FA"/>
<circle cx="1721.7" cy="1985.1" r="4.15" fill="#0FC0FA"/>
<circle cx="1733.0" cy="1985.1" r="4.15" fill="#0FC0FA"/>
<circle cx="1638.8" cy="1988.9" r="4.15" fill="#0FC0FA"/>
<circle cx="1645.1" cy="1988.5" r="4.15" fill="#0FC0FA"/>
<circle cx="1673.7" cy="1989.8" r="4.15" fill="#0FC0FA"/>
<circle cx="1687.3" cy="1991.7" r="4.15" fill="#0FC0FA"/>
<circle cx="1746.2" cy="1990.2" r="4.15" fill="#0FC0FA"/>
<circle cx="1759.4" cy="1989.3" r="4.15" fill="#0FC0FA"/>
<circle cx="1729.8" cy="1993.6" r="4.15" fill="#0FC0FA"/>
<circle cx="1644.1" cy="1996.4" r="4.15" fill="#0FC0FA"/>
<circle cx="1668.0" cy="1997.4" r="4.15" fill="#0FC0FA"/>
<circle cx="1711.0" cy="1999.3" r="4.15" fill="#0FC0FA"/>
</g>
<text x="468.8" y="2075.8" font-size="39.3" text-anchor="middle" font-family="Liberation Sans, Arial, sans-serif" font-weight="bold" fill="#000">ROC</text>
<text x="1115.3" y="2075.8" font-size="39.4" text-anchor="middle" font-family="Liberation Sans, Arial, sans-serif" font-weight="bold" fill="#000">Doctor</text>
<text x="1698.5" y="2075.8" font-size="39.6" text-anchor="middle" font-family="Liberation Sans, Arial, sans-serif" font-weight="bold" fill="#000">LLNM-Net</text>
</svg></body></html>
